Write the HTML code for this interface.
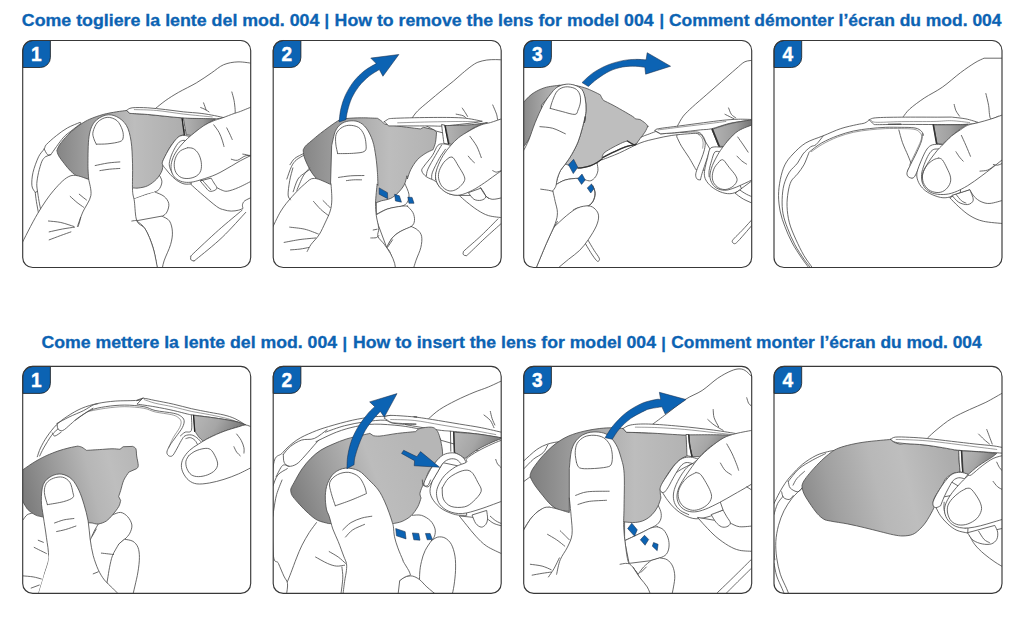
<!DOCTYPE html>
<html lang="it">
<head>
<meta charset="utf-8">
<title>Mod. 004 - lente</title>
<style>
html,body{margin:0;padding:0;background:#fff;}
body{width:1024px;height:629px;overflow:hidden;font-family:"Liberation Sans",sans-serif;}
svg{display:block;}
.ttl text{font-family:"Liberation Sans",sans-serif;font-weight:bold;font-size:16.3px;fill:#0c63b3;stroke:#0c63b3;stroke-width:0.3;}
.num{font-family:"Liberation Sans",sans-serif;font-weight:bold;font-size:18.5px;fill:#fff;stroke:#fff;stroke-width:0.4;text-anchor:middle;}
.ln{fill:none;stroke:#4c4c4c;stroke-width:2.3;stroke-linecap:round;stroke-linejoin:round;}
.th{fill:none;stroke:#555;stroke-width:1.6;stroke-linecap:round;stroke-linejoin:round;}
.sk{fill:#fff;stroke:#4c4c4c;stroke-width:2.3;stroke-linecap:round;stroke-linejoin:round;}
.wf{fill:#fff;stroke:none;}
.lens{stroke:#4c4c4c;stroke-width:2.3;stroke-linejoin:round;}
.bl{fill:#0c63b3;stroke:#1b2e4a;stroke-width:1.5;stroke-linejoin:round;}
</style>
</head>
<body>
<svg width="1024" height="629" viewBox="0 0 1024 629">
<defs>
<clipPath id="pc"><rect x="0" y="0" width="629" height="626" rx="28" ry="28"/></clipPath>
<linearGradient id="lg1" gradientUnits="userSpaceOnUse" x1="95" y1="0" x2="450" y2="0"><stop offset="0" stop-color="#858585"/><stop offset="0.25" stop-color="#a0a0a0"/><stop offset="0.6" stop-color="#bdbdbd"/><stop offset="1" stop-color="#adadad"/></linearGradient>
<linearGradient id="lg2" gradientUnits="userSpaceOnUse" x1="80" y1="0" x2="480" y2="0"><stop offset="0" stop-color="#858585"/><stop offset="0.3" stop-color="#a4a4a4"/><stop offset="0.6" stop-color="#bdbdbd"/><stop offset="1" stop-color="#b0b0b0"/></linearGradient>
<linearGradient id="lg3b" gradientUnits="userSpaceOnUse" x1="0" y1="0" x2="90" y2="0"><stop offset="0" stop-color="#8a8a8a"/><stop offset="1" stop-color="#b8b8b8"/></linearGradient>
<linearGradient id="dk4" x1="0" y1="0" x2="1" y2="0"><stop offset="0" stop-color="#b0b0b0"/><stop offset="0.5" stop-color="#a0a0a0"/><stop offset="1" stop-color="#7a7a7a"/></linearGradient>
<linearGradient id="lg5" gradientUnits="userSpaceOnUse" x1="0" y1="330" x2="300" y2="250"><stop offset="0" stop-color="#7d7d7d"/><stop offset="0.3" stop-color="#9a9a9a"/><stop offset="0.6" stop-color="#b6b6b6"/><stop offset="0.8" stop-color="#bebebe"/><stop offset="1" stop-color="#b8b8b8"/></linearGradient>
<linearGradient id="dk5" x1="0" y1="0" x2="1" y2="0.3"><stop offset="0" stop-color="#b8b8b8"/><stop offset="0.5" stop-color="#a6a6a6"/><stop offset="1" stop-color="#777"/></linearGradient>
<linearGradient id="lg6" gradientUnits="userSpaceOnUse" x1="60" y1="380" x2="400" y2="250"><stop offset="0" stop-color="#7d7d7d"/><stop offset="0.3" stop-color="#9c9c9c"/><stop offset="0.65" stop-color="#bcbcbc"/><stop offset="1" stop-color="#b6b6b6"/></linearGradient>
<linearGradient id="lg7" gradientUnits="userSpaceOnUse" x1="20" y1="0" x2="460" y2="0"><stop offset="0" stop-color="#7f7f7f"/><stop offset="0.3" stop-color="#a0a0a0"/><stop offset="0.65" stop-color="#bdbdbd"/><stop offset="1" stop-color="#b2b2b2"/></linearGradient>
<linearGradient id="lg8" gradientUnits="userSpaceOnUse" x1="70" y1="340" x2="480" y2="240"><stop offset="0" stop-color="#8a8a8a"/><stop offset="0.2" stop-color="#a0a0a0"/><stop offset="0.5" stop-color="#b8b8b8"/><stop offset="0.7" stop-color="#bebebe"/><stop offset="1" stop-color="#adadad"/></linearGradient>
<linearGradient id="dk1" x1="0" y1="0" x2="1" y2="0"><stop offset="0" stop-color="#b4b4b4"/><stop offset="0.6" stop-color="#9a9a9a"/><stop offset="1" stop-color="#6e6e6e"/></linearGradient>
</defs>
<rect width="1024" height="629" fill="#fff"/>
<g class="ttl">
<text x="21.8" y="25.5" textLength="297.6" lengthAdjust="spacingAndGlyphs">Come togliere la lente del mod. 004</text>
<text x="324.4" y="26">|</text>
<text x="334.6" y="25.5" textLength="319" lengthAdjust="spacingAndGlyphs">How to remove the lens for model 004</text>
<text x="659.4" y="26">|</text>
<text x="669" y="25.5" textLength="332.5" lengthAdjust="spacingAndGlyphs">Comment démonter l’écran du mod. 004</text>
<text x="41.4" y="348.2" textLength="295.7" lengthAdjust="spacingAndGlyphs">Come mettere la lente del mod. 004</text>
<text x="342.6" y="348.7">|</text>
<text x="353" y="348.2" textLength="303" lengthAdjust="spacingAndGlyphs">How to insert the lens for model 004</text>
<text x="661.3" y="348.7">|</text>
<text x="671.3" y="348.2" textLength="310.3" lengthAdjust="spacingAndGlyphs">Comment monter l’écran du mod. 004</text>
</g>
<!-- panel 1 -->
<g transform="translate(22.7,40.5) scale(0.36248)"><g clip-path="url(#pc)">
<path class="sk" d="M157.5,226.2C151.8,228.7 134.4,234.9 123.7,241.0C112.9,247.0 102.7,254.8 93.0,262.5C83.2,270.2 71.0,280.9 65.3,287.1C59.7,293.2 62.8,293.7 59.2,299.3C55.6,305.0 48.9,310.1 43.8,320.8C38.7,331.6 31.5,350.5 28.5,363.8C25.4,377.1 24.4,391.5 25.4,400.7C26.4,409.9 33.1,416.1 34.6,419.1L40.8,416.1C40.4,412.5 38.4,403.3 38.9,394.6C39.4,385.8 41.5,374.1 43.8,363.8C46.2,353.6 50.0,340.3 53.0,333.1C56.1,326.0 60.7,322.9 62.3,320.8L77.6,314.7C83.2,307.0 102.2,279.4 111.4,268.6C120.6,257.9 124.7,256.9 132.9,250.2C141.1,243.5 155.9,232.3 160.5,228.7Z"/>
<path class="ln" d="M59.2,299.3C60.7,301.9 65.3,312.1 68.4,314.7C71.5,317.3 76.1,314.7 77.6,314.7"/>
<path class="ln" d="M34.6,419.1C35.1,423.2 36.1,434.0 37.7,443.7C39.2,453.4 42.8,471.8 43.8,477.5"/>
<path class="ln" d="M40.8,416.1C41.5,420.7 43.5,435.0 45.1,443.7C46.6,452.4 49.1,464.2 50.0,468.3"/>
<path class="sk" d="M367.0,187.0C371.7,183.3 384.5,172.3 395.0,165.0C405.5,157.7 416.0,151.0 430.0,143.0C444.0,135.0 464.0,125.8 479.0,117.0C494.0,108.2 507.5,98.3 520.0,90.0C532.5,81.7 541.7,72.2 554.0,67.0C566.3,61.8 579.7,59.5 594.0,59.0C608.3,58.5 632.3,63.2 640.0,64.0L640.0,260.0C616.7,260.0 540.0,265.0 500.0,260.0C460.0,255.0 416.7,235.0 400.0,230.0Z"/>
<path class="ln" d="M577.0,142.0C578.0,145.8 581.5,157.0 583.0,165.0C584.5,173.0 585.5,183.3 586.0,190.0C586.5,196.7 586.0,202.5 586.0,205.0"/>
<path class="ln" d="M499.0,172.0C499.7,173.8 501.8,179.7 503.0,183.0C504.2,186.3 505.5,190.5 506.0,192.0"/>
<path class="ln" d="M491.0,185.0C493.0,185.8 499.2,188.0 503.0,190.0C506.8,192.0 512.2,195.8 514.0,197.0"/>
<path class="sk" d="M300.0,440.0C306.7,437.5 329.2,428.7 340.0,425.0C350.8,421.3 358.7,420.8 365.0,418.0C371.3,415.2 374.8,413.0 378.0,408.0C381.2,403.0 384.5,394.7 384.0,388.0C383.5,381.3 376.5,371.3 375.0,368.0L300.0,380.0Z"/>
<path class="wf" d="M365.0,418.0C369.2,420.0 383.7,424.7 390.0,430.0C396.3,435.3 401.7,442.8 403.0,450.0C404.3,457.2 401.0,467.2 398.0,473.0C395.0,478.8 393.0,479.7 385.0,485.0C377.0,490.3 357.8,499.2 350.0,505.0C342.2,510.8 340.0,517.5 338.0,520.0L300.0,440.0Z"/>
<path class="ln" d="M365.0,418.0C369.2,420.0 383.7,424.7 390.0,430.0C396.3,435.3 401.7,442.8 403.0,450.0C404.3,457.2 401.0,467.2 398.0,473.0C395.0,478.8 393.0,479.7 385.0,485.0C377.0,490.3 357.8,499.2 350.0,505.0C342.2,510.8 340.0,517.5 338.0,520.0"/>
<path class="sk" d="M385.0,485.0C388.3,487.2 400.3,490.8 405.0,498.0C409.7,505.2 412.5,517.2 413.0,528.0C413.5,538.8 411.8,549.7 408.0,563.0C404.2,576.3 394.2,595.2 390.0,608.0C385.8,620.8 384.2,634.7 383.0,640.0L373.0,640.0C370.8,628.8 365.8,593.0 360.0,573.0C354.2,553.0 345.5,532.5 338.0,520.0C330.5,507.5 318.8,501.7 315.0,498.0Z"/>
<path class="lens" d="M94.2,303.6C95.5,300.9 97.3,294.1 102.2,287.1C107.1,280.0 116.5,268.7 123.7,261.3C130.8,253.8 138.8,247.4 145.2,242.2C151.5,237.0 155.1,234.1 161.8,229.9C168.4,225.7 175.1,221.3 185.1,217.0C195.1,212.7 209.7,207.5 222.0,204.1C234.2,200.8 248.1,198.6 258.8,196.8C269.6,194.9 281.9,193.7 286.5,193.1L295.7,201.1C303.9,201.6 328.4,202.8 344.8,204.1C361.2,205.5 378.4,207.5 394.0,209.0C409.5,210.6 430.8,212.6 438.2,213.3L448.0,259.4C445.1,260.4 437.3,260.4 430.8,265.6C424.4,270.7 415.5,281.4 409.3,290.1C403.2,298.8 397.7,310.6 394.0,317.8C390.2,324.9 387.8,330.6 386.6,333.1C386.3,337.2 387.6,349.5 384.7,357.7C381.9,365.9 376.0,375.1 369.4,382.3C362.7,389.4 353.0,396.6 344.8,400.7C336.6,404.8 326.9,405.8 320.2,406.8C313.6,407.9 307.4,406.8 304.9,406.8L185.1,382.3C180.0,381.2 163.1,379.7 154.4,376.1C145.7,372.5 139.5,366.9 132.9,360.8C126.2,354.6 120.1,346.4 114.5,339.3C108.8,332.1 102.5,323.7 99.1,317.8C95.7,311.8 95.0,306.0 94.2,303.6Z" fill="url(#lg1)"/>
<path class="lens" d="M442.9,212.5C451.0,212.7 476.2,213.6 491.3,214.2C506.4,214.7 526.4,215.6 533.4,215.8C528.5,218.6 512.4,227.4 503.9,232.7C495.5,237.9 489.2,242.5 482.9,247.4C476.6,252.3 468.8,259.7 466.0,262.2L451.3,260.0C450.6,256.2 448.5,244.8 447.1,236.9C445.7,229.0 443.6,216.5 442.9,212.5Z" fill="url(#dk1)"/>
<path class="ln" d="M439.9,211.6C440.4,215.8 441.5,228.8 442.5,236.9C443.4,245.0 445.3,256.5 445.8,260.5" style="stroke:#222;stroke-width:3.2"/>
<path class="sk" d="M286.5,193.1C289.0,191.8 292.1,186.9 301.8,185.7C311.5,184.5 329.5,184.9 344.8,185.7C360.2,186.5 377.6,188.8 394.0,190.6C410.3,192.5 426.7,195.0 443.1,196.8C459.5,198.5 477.9,199.3 492.2,201.1C506.6,202.8 518.3,205.2 529.1,207.2C539.8,209.2 552.1,212.3 556.7,213.3L535.2,215.8C528.1,215.7 508.4,215.6 492.2,215.2C476.1,214.8 462.8,215.2 438.2,213.3C413.6,211.5 368.6,206.2 344.8,204.1C321.1,202.1 303.9,201.6 295.7,201.1L286.5,193.1Z"/>
<path class="th" d="M308.0,190.6C318.2,191.0 346.9,191.0 369.4,193.1C391.9,195.1 417.5,199.9 443.1,202.9C468.7,205.9 509.6,209.6 523.0,210.9"/>
<path class="sk" d="M463.9,267.2C461.5,266.4 454.5,262.6 449.2,262.2C443.9,261.7 437.6,261.5 432.4,264.3C427.1,267.1 422.9,272.3 417.6,279.0C412.4,285.7 406.0,295.1 400.8,304.3C395.5,313.4 388.4,327.1 386.0,333.7C383.7,340.4 385.1,340.4 386.9,344.3C388.6,348.1 393.2,352.7 396.6,356.9C399.9,361.1 402.5,364.8 407.1,369.5C411.7,374.2 417.6,380.8 423.9,385.1C430.3,389.5 438.0,393.9 445.0,395.6C452.0,397.4 462.5,395.6 466.0,395.6C470.3,387.4 491.7,367.8 491.3,346.4C491.0,325.0 468.5,280.4 463.9,267.2Z"/>
<path class="ln" d="M455.5,277.7C453.2,277.4 446.2,274.6 441.6,275.6C437.1,276.7 432.8,278.4 428.1,284.0C423.4,289.7 417.3,300.9 413.4,309.3C409.6,317.7 406.3,327.7 405.0,334.6C403.7,341.5 404.4,345.1 405.8,350.6C407.2,356.0 412.1,364.6 413.4,367.4"/>
<path class="sk" d="M465.3,398.1C469.5,401.9 478.7,410.6 490.3,420.6C502.0,430.6 524.5,450.4 535.3,458.1C546.2,465.9 548.7,465.0 555.3,467.1C562.0,469.2 568.7,470.5 575.3,470.6C582.0,470.8 589.9,469.4 595.3,468.1C600.8,466.9 605.8,464.0 607.8,463.1C607.6,461.5 605.5,456.6 606.3,453.1C607.2,449.6 608.0,445.8 612.8,442.1C617.7,438.5 631.6,433.0 635.3,431.1L635.3,385.6C628.7,389.0 607.0,400.6 595.3,405.6C583.7,410.6 572.8,414.4 565.3,415.6C557.8,416.9 555.3,414.8 550.3,413.1C545.3,411.5 537.8,406.9 535.3,405.6L465.3,373.1Z"/>
<path class="sk" d="M490.3,388.1C492.4,390.6 498.7,398.5 502.8,403.1C507.0,407.7 510.7,414.0 515.3,415.6C519.9,417.3 527.0,414.8 530.3,413.1C533.7,411.5 535.7,409.0 535.3,405.6C534.9,402.3 530.3,397.3 527.8,393.1C525.3,389.0 521.6,382.7 520.3,380.6Z"/>
<path class="ln" d="M496.3,386.1C498.2,388.3 504.1,394.9 507.8,399.1C511.6,403.4 517.0,409.5 518.8,411.6"/>
<path class="sk" d="M638.7,180.0C632.4,182.6 609.9,192.1 600.8,195.6C591.7,199.1 592.4,198.1 583.9,201.1C575.5,204.1 560.1,210.2 550.3,213.7C540.4,217.2 533.4,218.6 525.0,222.2C516.6,225.7 508.1,229.5 499.7,234.8C491.3,240.0 481.8,247.9 474.5,253.7C467.1,259.6 462.2,263.4 455.5,269.7C448.8,276.0 440.8,283.8 434.5,291.6C428.1,299.5 421.8,308.5 417.6,316.9C413.5,325.3 410.7,334.4 409.6,342.2C408.6,349.9 409.3,356.9 411.3,363.2C413.3,369.5 416.9,375.6 421.8,380.0C426.7,384.5 433.8,387.9 440.8,389.7C447.8,391.6 455.5,391.9 463.9,391.0C472.4,390.1 479.7,387.8 491.3,384.3C502.9,380.7 519.4,375.8 533.4,369.5C547.4,363.2 564.3,352.7 575.5,346.4C586.7,340.0 590.3,337.2 600.8,331.6C611.3,326.0 632.4,315.8 638.7,312.7Z"/>
<path class="ln" d="M455.5,295.8C458.1,296.3 466.2,295.6 471.1,298.4C476.0,301.2 481.4,306.4 485.0,312.7C488.6,318.9 491.5,328.1 492.6,335.8C493.6,343.6 493.5,352.7 491.3,359.0C489.1,365.3 485.0,370.2 479.5,373.7C474.0,377.3 465.5,379.8 458.5,380.5C451.4,381.2 443.4,380.7 437.4,377.9C431.4,375.2 425.9,369.9 422.7,364.0C419.4,358.2 418.0,350.2 418.0,343.0C418.0,335.8 419.8,327.6 422.7,321.1C425.6,314.6 429.8,308.5 435.3,304.3C440.8,300.0 452.1,297.2 455.5,295.8"/>
<path class="ln" d="M575.5,327.4C578.3,327.9 586.0,331.8 592.4,330.4C598.7,328.9 606.7,320.8 613.4,318.6C620.1,316.3 629.2,317.2 632.4,316.9"/>
<path class="ln" d="M607.1,313.5C608.9,313.8 613.4,314.1 617.6,315.2C621.8,316.3 629.9,319.4 632.4,320.3"/>
<path class="ln" d="M527.1,232.7C529.6,236.2 538.0,246.7 541.8,253.7C545.7,260.8 548.0,268.3 550.3,274.8C552.5,281.2 554.5,289.5 555.3,292.5"/>
<path class="ln" d="M562.9,241.1C564.3,243.9 568.8,252.6 571.3,257.9C573.8,263.3 576.9,270.6 578.0,273.1"/>
<path class="sk" d="M605.3,468.1C594.5,477.3 562.8,503.1 540.3,523.1C517.8,543.1 483.0,576.0 470.3,588.1C457.7,600.3 465.5,593.6 464.3,596.1C463.2,598.6 462.8,601.3 463.3,603.1C463.8,605.0 465.7,606.5 467.3,607.1C469.0,607.8 471.3,607.8 473.3,607.1C475.3,606.5 466.5,613.8 479.3,603.1C492.2,592.5 527.7,564.6 550.3,543.1C573.0,521.6 604.5,485.6 615.3,474.1"/>
<path class="sk" d="M-5.0,565.0C2.7,550.5 25.8,503.3 41.0,478.0C56.2,452.7 70.7,430.5 86.0,413.0C101.3,395.5 117.0,378.0 133.0,373.0C149.0,368.0 173.8,381.3 182.0,383.0C181.7,375.8 179.8,359.7 180.0,340.0C180.2,320.3 180.0,284.2 183.0,265.0C186.0,245.8 190.3,234.8 198.0,225.0C205.7,215.2 218.8,208.5 229.0,206.0C239.2,203.5 249.5,205.3 259.0,210.0C268.5,214.7 279.3,222.7 286.0,234.0C292.7,245.3 296.2,260.3 299.0,278.0C301.8,295.7 302.3,317.5 303.0,340.0C303.7,362.5 302.2,395.8 303.0,413.0C303.8,430.2 306.0,428.8 308.0,443.0C310.0,457.2 310.0,485.2 315.0,498.0C320.0,510.8 330.5,507.5 338.0,520.0C345.5,532.5 354.0,553.0 360.0,573.0C366.0,593.0 371.7,628.8 374.0,640.0L-5.0,640.0Z"/>
<path class="ln" d="M182.0,383.0C183.0,390.5 190.7,413.0 188.0,428.0C185.3,443.0 172.2,458.8 166.0,473.0C159.8,487.2 153.5,506.3 151.0,513.0"/>
<path class="ln" d="M203.0,286.0C201.8,283.3 197.5,275.7 196.0,270.0C194.5,264.3 192.2,259.5 194.0,252.0C195.8,244.5 200.5,231.7 207.0,225.0C213.5,218.3 224.2,212.7 233.0,212.0C241.8,211.3 253.0,215.2 260.0,221.0C267.0,226.8 272.2,239.0 275.0,247.0C277.8,255.0 278.2,263.7 277.0,269.0C275.8,274.3 275.0,276.3 268.0,279.0C261.0,281.7 245.8,283.8 235.0,285.0C224.2,286.2 208.3,285.8 203.0,286.0"/>
<path class="ln" d="M200.0,345.0C205.8,343.8 223.7,339.7 235.0,338.0C246.3,336.3 262.5,335.5 268.0,335.0"/>
<path class="ln" d="M213.0,359.0C217.5,358.3 230.8,356.0 240.0,355.0C249.2,354.0 263.3,353.3 268.0,353.0"/>
<path class="ln" d="M131.0,430.0C134.2,432.8 143.8,442.0 150.0,447.0C156.2,452.0 165.0,457.8 168.0,460.0"/>
<path class="ln" d="M156.0,424.0C157.8,425.5 163.7,430.3 167.0,433.0C170.3,435.7 174.5,438.8 176.0,440.0"/>
<path class="ln" d="M71.0,498.0C76.7,498.7 93.3,499.5 105.0,502.0C116.7,504.5 135.0,511.2 141.0,513.0"/>
<path class="ln" d="M73.0,528.0C79.2,526.7 98.3,522.2 110.0,520.0C121.7,517.8 137.5,515.8 143.0,515.0"/>
<path class="ln" d="M73.0,550.0C78.3,548.0 95.0,541.7 105.0,538.0C115.0,534.3 128.3,529.7 133.0,528.0"/>
<path class="ln" d="M153.0,513.0C153.7,510.8 155.8,504.2 157.0,500.0C158.2,495.8 159.5,490.0 160.0,488.0"/>
<path class="ln" d="M301.0,498.0C302.2,497.8 305.7,497.3 308.0,497.0C310.3,496.7 313.8,496.2 315.0,496.0"/>
</g></g>
<!-- panel 2 -->
<g transform="translate(273.2,40.5) scale(0.36248)"><g clip-path="url(#pc)">
<path class="ln" d="M46.3,342.7C48.5,339.8 53.3,330.3 59.5,325.2C65.7,320.0 79.6,314.2 83.6,312.0"/>
<path class="ln" d="M55.1,417.3C57.3,411.4 62.8,390.9 68.3,382.2C73.8,373.4 81.8,369.4 88.0,364.6C94.2,359.9 102.6,355.5 105.6,353.7"/>
<path class="ln" d="M37.6,382.2C39.8,376.3 46.3,355.9 50.7,347.1C55.1,338.3 58.2,334.7 63.9,329.5C69.6,324.4 81.4,318.6 84.9,316.4"/>
<path class="sk" d="M383.4,213.6C385.9,210.3 391.0,201.6 398.7,194.0C406.4,186.3 418.2,177.1 429.4,167.5C440.7,158.0 455.0,146.0 466.3,136.8C477.6,127.6 487.8,119.9 497.0,112.3C506.2,104.6 513.4,97.6 521.6,90.8C529.8,83.9 539.0,76.2 546.1,71.1C553.3,66.0 557.4,62.9 564.6,60.0C571.7,57.2 581.0,55.1 589.1,53.9C597.3,52.7 605.5,52.7 613.7,52.7C621.9,52.7 634.2,53.7 638.3,53.9L640.0,54.0L640.0,300.0L450.0,250.0Z"/>
<path class="ln" d="M605.7,177.9C607.5,182.2 613.8,196.2 616.2,203.2C618.7,210.2 617.6,217.7 620.5,220.0C623.3,222.4 631.0,217.6 633.1,217.1"/>
<path class="ln" d="M504.7,203.2C507.8,203.9 519.1,205.7 523.6,207.4C528.2,209.2 530.6,212.7 532.0,213.7"/>
<path class="ln" d="M521.5,186.4C522.9,188.5 527.5,195.1 529.9,199.0C532.4,202.9 535.2,207.8 536.2,209.5"/>
<path class="sk" d="M363.5,395.6C365.3,400.4 373.4,415.7 374.5,424.1C375.5,432.5 373.4,440.6 370.1,446.0C366.8,451.5 363.9,453.9 354.7,457.0C345.6,460.2 326.9,461.1 315.2,464.9C303.5,468.7 289.7,477.3 284.5,479.8L284.5,395.6Z"/>
<path class="sk" d="M370.1,457.0C372.6,459.9 382.1,468.0 385.4,474.6C388.7,481.1 390.5,490.1 389.8,496.5C389.1,502.9 387.6,508.0 381.0,513.2C374.5,518.3 359.1,521.9 350.3,527.2C341.6,532.5 334.6,537.4 328.4,544.7C322.2,552.0 315.6,566.7 313.0,571.0L280.2,483.3C286.0,480.3 302.8,469.3 315.2,464.9C327.7,460.5 345.6,458.3 354.7,457.0C363.9,455.7 367.5,457.0 370.1,457.0Z"/>
<path class="sk" d="M381.0,513.2C384.0,514.8 393.8,518.3 398.6,522.8C403.3,527.3 408.1,532.3 409.5,540.3C411.0,548.4 409.9,560.1 407.3,571.0C404.8,582.0 398.2,594.4 394.2,606.1C390.2,617.8 385.1,635.4 383.2,641.2L337.2,641.2C335.0,632.5 328.0,600.3 324.0,588.6C320.0,576.9 314.9,574.0 313.0,571.0C315.6,566.7 322.2,552.0 328.4,544.7C334.6,537.4 341.6,532.5 350.3,527.2C359.1,521.9 375.9,515.5 381.0,513.2Z"/>
<path class="ln" d="M315.2,571.0C316.7,568.9 321.7,561.4 324.0,557.9C326.4,554.4 328.4,551.3 329.3,550.0"/>
<path class="lens" d="M82.8,301.7C83.9,299.9 85.7,294.8 89.4,290.8C93.0,286.8 97.8,283.5 104.7,277.6C111.7,271.8 118.8,264.9 131.0,255.7C143.2,246.4 166.5,228.8 177.9,222.1C189.4,215.4 188.9,217.0 199.9,215.5C210.8,214.0 229.1,213.5 243.7,213.3C258.3,213.2 280.3,214.4 287.6,214.6C289.4,215.9 295.3,219.4 298.5,222.1C301.8,224.8 305.9,229.4 307.3,230.9C315.0,232.0 336.9,235.2 353.4,237.4C369.8,239.6 397.2,242.9 406.0,244.0L414.8,239.6L443.3,246.2L450.7,252.8C450.2,257.5 449.3,273.3 447.7,281.3C446.1,289.3 442.2,297.7 441.1,301.0C437.4,302.9 426.5,307.2 419.2,312.0C411.8,316.8 403.8,322.2 397.2,329.5C390.6,336.9 384.2,347.1 379.7,355.9C375.2,364.6 371.6,377.8 370.0,382.2L369.0,373.1C367.7,377.3 365.6,390.2 361.5,398.1C357.3,406.0 350.2,414.4 344.0,420.6C337.7,426.9 331.5,432.0 324.0,435.6C316.5,439.2 303.1,441.0 299.0,442.1L285.4,446.9C274.3,446.8 240.1,454.4 218.7,446.0C197.4,437.7 167.6,405.1 157.3,396.9L159.5,398.2C157.0,397.7 150.4,397.7 144.2,395.2C138.0,392.6 128.5,387.8 122.3,382.9C116.0,377.9 111.7,372.3 106.9,365.3C102.2,358.4 97.4,348.9 93.7,341.2C90.1,333.5 86.8,325.9 85.0,319.3C83.1,312.7 83.1,304.7 82.8,301.7Z" fill="url(#lg2)"/>
<path class="sk" d="M306.6,224.1C308.1,223.0 311.7,219.4 315.8,217.9C319.9,216.4 312.2,215.8 331.2,214.8C350.1,213.9 397.7,212.6 429.4,212.4C461.2,212.2 497.0,211.9 521.6,213.6C546.1,215.4 567.6,221.3 576.9,222.8L552.3,227.1C539.0,228.6 492.9,234.3 472.4,235.7C452.0,237.2 455.0,235.7 429.4,235.7C403.8,235.7 337.3,235.7 318.9,235.7L306.6,224.1Z"/>
<path class="th" d="M343.4,227.1C357.8,226.7 399.7,225.3 429.4,224.7C459.1,224.1 499.0,223.4 521.6,223.4C544.1,223.4 557.4,224.5 564.6,224.7"/>
<path class="lens" d="M475.2,234.8C486.1,234.4 521.2,234.1 540.5,232.7C559.8,231.3 582.6,227.4 591.0,226.4C584.7,228.8 564.3,235.1 553.1,241.1C541.9,247.1 532.7,254.4 523.6,262.2C514.5,269.9 502.6,283.2 498.3,287.4L485.7,285.3L475.2,234.8Z" fill="url(#dk1)"/>
<path class="sk" d="M464.7,232.7C465.2,236.9 466.6,249.4 467.6,257.9C468.7,266.5 470.4,279.7 471.0,284.0L483.6,285.7C482.7,281.1 479.8,266.4 478.1,257.9C476.5,249.5 474.6,238.6 473.9,234.8Z"/>
<path class="ln" d="M473.9,234.8C474.6,238.6 476.5,249.5 478.1,257.9C479.8,266.4 483.0,281.1 484.0,285.7" style="stroke:#222;stroke-width:3.2"/>
<path class="sk" d="M494.1,290.8C490.3,289.9 477.6,285.5 471.0,285.3C464.3,285.1 459.4,284.3 454.1,289.5C448.9,294.8 445.7,307.4 439.4,316.9C433.1,326.4 421.2,339.2 416.2,346.4C411.3,353.5 408.9,354.9 409.9,359.8C411.0,364.8 416.2,371.1 422.6,375.8C428.9,380.6 441.5,383.6 447.8,388.5C454.1,393.4 454.1,399.6 460.5,405.3C466.8,411.1 476.6,419.3 485.7,423.0C494.8,426.6 510.3,426.5 515.2,427.2L532.0,346.4Z"/>
<path class="ln" d="M464.7,288.3C461.9,293.0 454.1,305.8 447.8,316.9C441.5,328.0 431.0,345.3 426.8,354.8C422.6,364.3 423.3,370.6 422.6,373.7"/>
<path class="ln" d="M475.2,300.0C472.4,304.3 464.3,314.8 458.3,325.3C452.4,335.8 442.9,353.9 439.4,363.2C435.9,372.5 437.6,377.9 437.3,380.9"/>
<path class="ln" d="M485.7,304.3C482.2,309.2 470.6,323.9 464.7,333.7C458.7,343.6 452.7,354.8 449.9,363.2C447.1,371.6 448.2,380.8 447.8,384.3"/>
<path class="sk" d="M514.0,428.1C517.3,431.0 525.6,439.0 534.0,445.6C542.3,452.3 554.0,461.9 564.0,468.1C574.0,474.4 582.3,479.6 594.0,483.1C605.6,486.6 627.3,488.1 634.0,489.1L634.0,433.1C629.0,434.0 612.3,439.0 604.0,438.1C595.6,437.3 587.3,429.8 584.0,428.1Z"/>
<path class="sk" d="M539.0,420.6C541.5,423.5 548.1,434.8 554.0,438.1C559.8,441.5 568.5,441.9 574.0,440.6C579.4,439.4 586.5,436.0 586.5,430.6C586.5,425.2 576.0,411.9 574.0,408.1Z"/>
<path class="ln" d="M571.5,405.6C573.5,409.0 580.2,420.6 584.0,425.6C587.7,430.6 592.3,434.0 594.0,435.6"/>
<path class="sk" d="M620.0,492.1C612.3,499.8 589.1,523.8 574.0,538.1C558.8,552.5 537.2,570.5 529.0,578.1C520.7,585.8 525.3,582.3 524.5,584.1C523.6,586.0 523.5,587.7 524.0,589.1C524.4,590.5 525.6,592.0 527.0,592.6C528.3,593.3 530.1,593.6 532.0,593.1C533.8,592.6 529.3,597.5 538.0,589.6C546.6,581.7 568.6,559.9 584.0,545.6C599.3,531.4 622.3,511.0 630.0,504.1"/>
<path class="sk" d="M633.1,215.0C627.5,216.9 609.2,223.4 599.4,226.4C589.6,229.3 584.0,228.8 574.1,232.7C564.3,236.5 551.0,243.6 540.5,249.5C529.9,255.5 519.4,261.8 511.0,268.5C502.6,275.1 496.9,281.5 489.9,289.5C482.9,297.6 475.0,306.7 468.9,316.9C462.7,327.1 456.4,340.8 452.9,350.6C449.4,360.4 447.6,368.1 447.8,375.8C448.0,383.6 450.6,390.6 454.1,396.9C457.6,403.2 462.9,409.2 468.9,413.7C474.8,418.3 482.2,422.2 489.9,424.3C497.6,426.4 505.4,428.1 515.2,426.4C525.0,424.6 537.6,419.3 548.9,413.7C560.1,408.1 572.0,399.7 582.6,392.7C593.1,385.7 603.6,377.6 612.0,371.6C620.5,365.7 629.6,359.3 633.1,356.9Z"/>
<path class="ln" d="M485.7,323.2C487.5,323.2 492.0,319.3 496.2,323.2C500.5,327.1 506.1,338.3 511.0,346.4C515.9,354.4 522.9,365.0 525.7,371.6C528.5,378.3 529.6,381.1 527.8,386.4C526.1,391.6 520.1,398.6 515.2,403.2C510.3,407.8 504.0,412.0 498.3,413.7C492.7,415.5 487.1,415.8 481.5,413.7C475.9,411.6 468.9,406.7 464.7,401.1C460.5,395.5 457.3,387.1 456.2,380.0C455.2,373.0 455.9,366.4 458.3,359.0C460.8,351.6 466.4,341.8 471.0,335.8C475.5,329.9 483.3,325.3 485.7,323.2"/>
<path class="ln" d="M542.6,264.3C545.7,268.8 556.2,281.8 561.5,291.6C566.8,301.5 572.0,317.9 574.1,323.2"/>
<path class="ln" d="M538.3,319.0C539.8,320.8 544.0,326.5 546.8,329.5C549.6,332.5 553.8,335.8 555.2,337.1"/>
<path class="ln" d="M605.7,359.0C607.5,359.7 612.0,363.3 616.2,363.2C620.5,363.1 628.5,359.0 631.0,358.2"/>
<path class="sk" d="M-4.9,522.8C-0.6,514.0 11.9,485.5 21.4,470.2C30.9,454.8 41.1,443.1 52.1,430.7C63.0,418.3 76.9,404.0 87.2,395.6C97.4,387.2 101.6,380.0 113.5,380.3C125.3,380.5 150.8,394.1 158.2,396.9L161.3,290.1C162.9,283.5 167.1,260.5 171.3,250.6C175.6,240.7 180.5,235.6 186.7,230.9C192.9,226.1 200.6,223.2 208.6,222.1C216.7,221.0 226.9,221.0 234.9,224.3C243.0,227.6 250.3,233.1 256.9,241.8C263.5,250.6 270.0,263.8 274.4,276.9C278.8,290.1 281.0,306.2 283.2,320.8C285.4,335.4 286.6,351.5 287.6,364.6C288.5,377.8 288.7,393.9 288.9,399.7L286.7,395.6C286.0,404.4 282.7,433.6 282.3,448.2C282.0,462.9 283.1,471.6 284.5,483.3C286.0,495.0 290.4,508.9 291.1,518.4C291.8,527.9 286.4,533.0 288.9,540.3C291.5,547.7 300.6,554.2 306.5,562.3C312.3,570.3 319.3,579.8 324.0,588.6C328.8,597.4 332.6,606.1 335.0,614.9C337.3,623.7 337.5,636.8 338.0,641.2L-4.9,641.2Z"/>
<path class="ln" d="M159.5,395.6C159.9,402.9 162.1,427.0 161.7,439.5C161.4,451.9 160.3,459.9 157.3,470.2C154.4,480.4 149.3,489.9 144.2,500.9C139.1,511.8 133.2,525.7 126.6,536.0C120.1,546.2 110.2,554.6 104.7,562.3C99.2,570.0 95.6,578.7 93.7,582.0"/>
<path class="ln" d="M275.8,522.8L286.7,520.6"/>
<path class="ln" d="M269.2,544.7C271.7,544.6 280.9,545.0 284.5,543.9C288.2,542.8 290.0,539.1 291.1,538.2"/>
<path class="ln" d="M54.3,351.7C52.8,357.6 47.7,374.4 45.5,386.8C43.3,399.3 40.7,417.5 41.1,426.3C41.5,435.1 46.6,437.3 47.7,439.5"/>
<path class="ln" d="M100.3,351.7C97.4,355.4 88.6,363.4 82.8,373.7C76.9,383.9 68.2,406.6 65.2,413.2"/>
<path class="ln" d="M177.9,312.0C177.1,307.6 173.4,294.5 172.7,285.7C171.9,276.9 171.2,266.7 173.5,259.4C175.9,252.1 180.9,246.1 186.7,241.8C192.5,237.6 200.6,234.3 208.6,233.9C216.7,233.6 228.0,235.4 234.9,239.6C241.9,243.9 246.8,251.7 250.3,259.4C253.8,267.0 255.6,278.0 256.0,285.7C256.4,293.4 258.2,301.2 252.5,305.4C246.8,309.7 234.2,310.0 221.8,311.1C209.4,312.2 185.2,311.9 177.9,312.0"/>
<path class="ln" d="M180.1,377.8C185.6,377.1 201.3,374.3 213.0,373.4C224.7,372.5 244.1,372.7 250.3,372.5"/>
<path class="ln" d="M202.1,386.6C205.3,386.2 214.8,384.7 221.8,384.4C228.7,384.0 240.1,384.4 243.7,384.4"/>
<path class="ln" d="M111.3,443.9C114.6,447.5 124.1,459.2 131.0,465.8C138.0,472.4 149.3,480.4 153.0,483.3"/>
<path class="ln" d="M137.6,441.7C139.4,443.5 145.3,449.3 148.6,452.6C151.9,455.9 155.9,459.9 157.3,461.4"/>
<path class="ln" d="M45.5,514.9C52.4,515.9 74.0,517.5 87.2,520.6C100.3,523.8 118.2,531.6 124.4,533.8"/>
<path class="ln" d="M30.2,557.0C37.5,555.7 59.4,551.2 74.0,549.1C88.6,547.1 110.6,545.5 117.9,544.7"/>
<path class="ln" d="M47.7,577.6C52.1,577.3 65.6,576.5 74.0,575.4C82.4,574.3 94.1,571.8 98.1,571.0"/>
<path class="bl" d="M292.4,406.6L315.2,419.7L316.1,436.4L292.4,424.1Z"/>
<path class="bl" d="M335.0,424.1L348.1,428.5L353.8,446.0L337.2,442.5Z"/>
<path class="bl" d="M371.4,432.0L383.2,432.9L388.5,449.1L374.5,449.1Z"/>
<path class="bl" d="M181.7,224.6C182.5,218.6 183.8,200.9 186.7,188.6C189.6,176.4 193.4,163.6 199.2,151.1C205.0,138.6 213.0,124.9 221.7,113.6C230.5,102.4 241.3,92.0 251.7,83.6C262.1,75.3 278.8,67.0 284.2,63.6L269.2,48.6L346.7,38.6L302.7,98.6L292.7,80.1C288.0,83.2 273.5,91.0 264.2,98.6C254.9,106.3 244.6,116.1 236.7,126.1C228.8,136.1 222.0,147.4 216.7,158.6C211.5,169.9 207.9,183.6 205.2,193.6C202.5,203.6 201.5,214.5 200.7,218.6Z"/>
</g></g>
<!-- panel 3 -->
<g transform="translate(523.7,40.5) scale(0.36248)"><g clip-path="url(#pc)">
<path class="sk" d="M425.3,233.6C427.8,229.5 433.7,217.0 440.3,208.6C447.0,200.3 454.5,193.6 465.3,183.6C476.2,173.6 492.0,160.3 505.3,148.6C518.7,137.0 532.0,125.3 545.3,113.6C558.7,102.0 574.5,87.8 585.3,78.6C596.2,69.5 602.0,62.6 610.3,58.6C618.7,54.6 631.2,55.3 635.3,54.6L635.3,348.6L480.3,358.6L475.3,356.7C472.0,350.9 462.0,332.6 455.3,321.7C448.7,310.9 440.7,300.9 435.3,291.7C429.9,282.6 424.9,270.9 422.8,266.7Z"/>
<path class="ln" d="M565.3,186.1C566.6,189.0 569.5,199.0 572.8,203.6C576.2,208.2 583.3,212.0 585.3,213.6"/>
<path class="ln" d="M555.3,203.6C557.8,204.9 566.2,209.0 570.3,211.1C574.5,213.2 578.7,215.3 580.3,216.1"/>
<path class="lens" d="M-3.6,174.1C0.8,169.7 12.5,155.1 22.8,147.7C33.0,140.4 45.4,134.2 57.8,130.2C70.3,126.2 90.7,124.7 97.3,123.6L49.1,178.4L49.1,191.7C47.6,196.1 44.0,208.5 40.3,218.1C36.6,227.6 32.3,238.5 27.1,248.8C22.0,259.0 14.7,271.4 9.6,279.5C4.5,287.5 -1.4,294.1 -3.6,297.0Z" fill="url(#lg3b)"/>
<path class="sk" d="M202.6,338.7C202.9,342.0 205.5,352.2 204.8,358.4C204.0,364.6 201.5,371.2 198.2,375.9C194.9,380.7 189.8,385.5 185.0,386.9C180.3,388.4 172.2,385.1 169.7,384.7C166.4,384.0 159.1,380.3 150.0,380.3C140.8,380.3 125.1,381.8 114.9,384.7C104.6,387.6 92.9,395.7 88.5,397.9C90.7,391.3 94.4,370.8 101.7,358.4C109.0,346.0 127.3,329.2 132.4,323.3Z"/>
<path class="wf" d="M187.2,397.9C188.7,400.8 194.9,408.8 196.0,415.4C197.1,422.0 196.4,430.8 193.8,437.4C191.3,443.9 188.0,450.9 180.7,454.9C173.3,458.9 157.3,459.4 150.0,461.5C142.6,463.6 139.0,466.6 136.8,467.6L82.0,437.4C81.6,433.7 78.7,422.0 79.8,415.4C80.9,408.8 87.1,400.8 88.5,397.9C92.9,395.7 104.6,387.6 114.9,384.7C125.1,381.8 140.8,380.3 150.0,380.3C159.1,380.3 166.4,384.0 169.7,384.7Z"/>
<path class="ln" d="M187.2,397.9C188.7,400.8 194.9,408.8 196.0,415.4C197.1,422.0 196.4,430.8 193.8,437.4C191.3,443.9 188.0,450.9 180.7,454.9C173.3,458.9 157.3,459.4 150.0,461.5C142.6,463.6 139.0,466.6 136.8,467.6"/>
<path class="ln" d="M88.5,397.9C92.9,395.7 104.6,387.6 114.9,384.7C125.1,381.8 140.8,380.3 150.0,380.3C159.1,380.3 166.4,384.0 169.7,384.7"/>
<path class="sk" d="M166.7,554.5C169.8,559.6 179.5,576.5 185.1,585.2C190.7,593.9 196.9,602.8 200.5,606.7C204.0,610.6 205.3,609.5 206.6,608.5C207.9,607.5 210.5,605.4 208.4,600.5C206.4,595.6 199.7,587.7 194.3,579.0C188.9,570.3 179.0,553.4 175.9,548.3"/>
<path class="sk" d="M83.8,514.5C89.4,509.4 106.8,492.5 117.5,483.8C128.3,475.1 138.0,466.9 148.3,462.3C158.5,457.7 170.8,455.7 179.0,456.2C187.2,456.7 192.8,460.8 197.4,465.4C202.0,470.0 206.1,476.1 206.6,483.8C207.1,491.5 205.1,500.7 200.5,511.5C195.9,522.2 186.6,537.0 179.0,548.3C171.3,559.6 163.6,569.8 154.4,579.0C145.2,588.2 134.9,594.4 123.7,603.6C112.4,612.8 93.0,629.2 86.8,634.3L31.5,634.3C36.7,622.0 53.6,580.6 62.3,560.6C71.0,540.6 80.2,522.2 83.8,514.5Z"/>
<path class="ln" d="M179.0,456.2C181.0,454.1 188.2,449.5 191.2,443.9C194.3,438.3 197.4,429.6 197.4,422.4C197.4,415.2 192.3,404.5 191.2,400.9"/>
<path class="ln" d="M93.0,499.2L83.8,514.5"/>
<path class="sk" d="M215.7,323.3C220.9,320.8 235.5,313.1 246.4,308.0C257.4,302.8 271.3,296.3 281.5,292.6C291.8,289.0 301.3,290.1 307.8,286.0C314.4,282.0 314.3,273.2 320.8,268.5C327.4,263.7 339.9,260.5 347.2,257.5C354.5,254.6 361.8,252.0 364.7,250.9L377.9,257.5C386.6,256.9 414.4,254.9 430.5,254.0C446.6,253.1 464.5,251.7 474.4,252.3C484.2,252.8 486.1,254.5 489.7,257.5C493.4,260.6 495.2,268.5 496.3,270.7L513.8,299.2C513.1,301.8 511.6,307.6 509.4,314.5C507.3,321.5 503.6,332.1 500.7,340.9C497.8,349.6 494.1,359.9 491.9,367.2C489.7,374.5 488.2,381.8 487.5,384.7C486.1,384.4 480.9,384.7 478.7,382.5C476.6,380.3 474.4,376.3 474.4,371.6C474.4,366.8 476.2,361.3 478.7,354.0C481.3,346.7 486.4,336.5 489.7,327.7C493.0,318.9 496.7,309.4 498.5,301.4C500.3,293.3 501.4,285.7 500.7,279.5C499.9,273.2 497.8,267.9 494.1,264.1C490.4,260.3 485.7,257.7 478.7,256.6C471.8,255.6 464.1,256.6 452.4,257.5C440.7,258.4 423.2,259.7 408.6,261.9C393.9,264.1 379.3,267.2 364.7,270.7C350.1,274.2 337.6,276.4 320.8,283.0C304.1,289.5 281.1,302.6 264.0,310.2C246.8,317.8 225.6,325.5 217.9,328.6Z"/>
<path class="th" d="M480.9,258.8C482.6,260.2 488.7,263.4 491.0,267.2C493.4,271.0 494.5,276.7 495.0,281.6C495.4,286.6 493.9,294.4 493.7,297.0"/>
<path class="ln" d="M215.7,324.2C220.9,321.6 235.5,314.0 246.4,308.8C257.4,303.7 271.3,297.1 281.5,293.5C291.8,289.8 303.5,288.0 307.8,286.9" style="stroke:#333;stroke-width:3.5"/>
<path class="sk" d="M362.5,248.8C364.0,247.9 360.0,245.7 371.3,243.5C382.6,241.3 409.7,238.4 430.5,235.6C451.3,232.8 476.6,229.4 496.3,226.8C516.0,224.3 532.8,221.9 548.9,220.2C565.0,218.6 578.5,217.5 592.8,217.2C607.0,216.8 627.5,217.9 634.4,218.1L634.4,220.7L605.9,222.4C599.4,223.5 581.1,225.5 566.5,229.0C551.8,232.5 531.4,240.6 518.2,243.5C505.1,246.4 502.1,245.0 487.5,246.6C472.9,248.2 448.8,251.3 430.5,253.1C412.2,255.0 386.6,256.8 377.9,257.5L362.5,248.8Z"/>
<path class="th" d="M371.3,246.6C381.2,245.3 409.7,241.7 430.5,239.1C451.3,236.5 475.1,233.8 496.3,231.2C517.5,228.6 547.5,224.6 557.7,223.3"/>
<path class="lens" d="M519.1,245.2C527.0,242.8 552.0,234.1 566.5,230.3C580.9,226.5 594.6,224.4 605.9,222.4C617.3,220.5 629.7,219.1 634.4,218.5L634.4,234.3C627.5,237.1 604.1,244.5 592.8,250.9C581.5,257.4 573.0,265.9 566.5,272.9C559.9,279.8 555.5,289.3 553.3,292.6L538.0,291.7L519.1,245.2Z" fill="url(#dk1)"/>
<path class="ln" d="M520.4,245.2L539.3,291.7" style="stroke:#333;stroke-width:5"/>
<path class="sk" d="M548.9,294.8C545.3,294.6 532.8,292.8 527.0,293.5C521.1,294.2 517.1,294.2 513.8,299.2C510.5,304.2 509.4,314.9 507.3,323.3C505.1,331.7 502.1,341.6 500.7,349.6C499.2,357.7 497.8,365.0 498.5,371.6C499.2,378.1 501.0,383.3 505.1,389.1C509.1,395.0 515.3,401.5 522.6,406.7C529.9,411.8 540.1,417.3 548.9,419.8C557.7,422.4 566.5,423.5 575.2,422.0C584.0,420.5 597.2,412.9 601.6,411.0L566.5,323.3Z"/>
<path class="ln" d="M540.1,306.7C538.0,306.9 530.6,303.7 527.0,308.0C523.3,312.2 520.8,323.7 518.2,332.1C515.7,340.5 512.7,351.1 511.6,358.4C510.5,365.7 511.6,373.0 511.6,375.9"/>
<path class="sk" d="M584.0,422.0C587.7,424.6 597.5,432.6 605.9,437.4C614.3,442.1 629.7,448.3 634.4,450.5L634.4,384.7Z"/>
<path class="ln" d="M597.2,413.2C600.1,415.1 608.5,420.9 614.7,424.2C620.9,427.5 631.2,431.5 634.4,433.0"/>
<path class="sk" d="M634.4,231.2C627.5,234.1 604.1,241.8 592.8,248.8C581.5,255.7 573.8,265.2 566.5,272.9C559.2,280.6 554.0,287.9 548.9,294.8C543.8,301.8 540.5,306.1 535.8,314.5C531.0,323.0 524.1,335.7 520.4,345.2C516.8,354.7 514.2,363.9 513.8,371.6C513.5,379.2 515.3,385.5 518.2,391.3C521.1,397.1 525.5,403.0 531.4,406.7C537.2,410.3 546.0,412.9 553.3,413.2C560.6,413.6 567.2,411.4 575.2,408.8C583.3,406.3 591.7,402.3 601.6,397.9C611.4,393.5 629.0,385.1 634.4,382.5Z"/>
<path class="ln" d="M542.3,331.2C543.8,331.0 547.1,326.8 551.1,329.9C555.1,333.0 561.0,342.7 566.5,349.6C571.9,356.6 580.4,365.3 584.0,371.6C587.7,377.8 589.5,381.8 588.4,386.9C587.3,392.0 582.5,398.2 577.4,402.3C572.3,406.3 564.3,410.3 557.7,411.0C551.1,411.8 543.7,409.9 538.0,406.7C532.3,403.4 526.4,397.1 523.5,391.3C520.6,385.5 519.8,378.5 520.4,371.6C521.0,364.6 523.3,356.4 527.0,349.6C530.6,342.9 539.8,334.3 542.3,331.2"/>
<path class="ln" d="M590.6,266.3C593.1,270.0 601.2,281.3 605.9,288.2C610.7,295.2 616.9,304.7 619.1,308.0"/>
<path class="ln" d="M588.4,318.9C590.6,321.1 597.2,328.4 601.6,332.1C605.9,335.7 612.5,339.4 614.7,340.9"/>
<path class="sk" d="M633.5,490.0C628.4,495.6 611.5,514.5 602.8,523.7C594.1,533.0 585.9,540.1 581.3,545.2C576.7,550.4 575.2,551.9 575.2,554.5C575.2,557.0 578.7,560.6 581.3,560.6C583.9,560.6 584.9,560.1 590.5,554.5C596.2,548.8 607.9,535.0 615.1,526.8C622.3,518.6 630.4,508.9 633.5,505.3"/>
<path class="lens" d="M97.3,123.6C103.2,123.5 120.7,121.6 132.4,122.7C144.1,123.8 157.3,127.1 167.5,130.2C177.7,133.3 186.5,137.9 193.8,141.2C201.1,144.5 208.4,148.5 211.4,149.9C212.1,151.4 214.3,156.2 215.7,158.7C217.2,161.3 219.4,164.2 220.1,165.3C224.5,167.5 236.2,173.0 246.4,178.4C256.7,183.9 272.0,192.7 281.5,198.2C291.0,203.7 299.8,209.1 303.5,211.3C304.2,212.1 304.9,214.6 307.8,215.7C310.8,216.8 318.8,217.6 321.0,217.9C323.6,219.7 332.7,225.6 336.4,228.9C340.0,232.2 341.8,236.2 342.9,237.7L342.9,235.6C341.5,238.5 337.8,247.3 334.2,253.1C330.5,259.0 325.0,265.2 321.0,270.7C317.0,276.2 311.9,283.5 310.0,286.0L303.5,287.4L285.9,277.3C283.7,278.0 279.3,278.7 272.8,281.6C266.2,284.6 254.5,290.4 246.4,294.8C238.4,299.2 229.3,304.3 224.5,308.0C219.8,311.6 219.4,313.4 217.9,316.7C216.5,320.0 216.1,325.9 215.7,327.7C213.5,329.2 207.7,333.6 202.6,336.5C197.5,339.4 191.6,342.9 185.0,345.2C178.5,347.6 169.0,349.4 163.1,350.5C157.3,351.6 158.0,353.4 150.0,351.8C141.9,350.2 120.7,342.7 114.9,340.9C117.8,336.5 126.6,324.8 132.4,314.5C138.3,304.3 145.2,291.2 150.0,279.5C154.7,267.8 157.6,256.1 160.9,244.4C164.2,232.7 168.2,215.1 169.7,209.3L167.5,226.7C168.2,220.8 171.5,202.6 171.9,191.6C172.2,180.6 171.5,170.3 169.7,160.9C167.9,151.5 162.4,139.7 160.9,135.5Z" fill="#bebebe"/>
<path class="ln" d="M150.0,351.8C152.1,351.6 157.3,351.6 163.1,350.5C169.0,349.4 178.5,347.6 185.0,345.2C191.6,342.9 197.5,339.4 202.6,336.5C207.7,333.6 213.5,329.2 215.7,327.7" style="stroke:#333;stroke-width:3.5"/>
<path class="ln" d="M285.9,277.3C288.8,278.9 299.4,285.9 303.5,287.4C307.5,288.8 308.9,286.3 310.0,286.0" style="stroke:#333;stroke-width:3.5"/>
<path class="sk" d="M-1.4,305.6C1.2,300.5 8.5,287.7 14.0,274.5C19.5,261.3 25.0,242.7 31.5,226.7C38.1,210.7 46.4,191.6 53.5,178.4C60.6,165.3 67.7,155.9 74.1,147.7C80.4,139.6 84.5,133.9 91.6,129.3C98.8,124.8 108.8,121.5 117.1,120.6C125.3,119.6 133.9,121.1 141.2,123.6C148.5,126.1 156.2,129.3 160.9,135.5C165.7,141.7 167.9,151.5 169.7,160.9C171.5,170.3 172.2,180.6 171.9,191.6C171.5,202.6 168.2,220.8 167.5,226.7L169.7,209.3C168.2,215.1 164.2,232.7 160.9,244.4C157.6,256.1 154.7,267.8 150.0,279.5C145.2,291.2 138.3,304.3 132.4,314.5C126.6,324.8 120.0,333.6 114.9,340.9C109.7,348.2 105.4,351.8 101.7,358.4C98.1,365.0 95.1,373.0 92.9,380.3C90.7,387.6 90.7,396.4 88.5,402.3C86.4,408.1 81.2,413.2 79.8,415.4L80.7,416.2C81.7,420.9 84.8,434.2 86.8,443.9C88.9,453.6 93.0,464.4 93.0,474.6C93.0,484.8 91.9,491.0 86.8,505.3C81.7,519.6 71.5,539.1 62.3,560.6C53.0,582.1 36.7,622.0 31.5,634.3L-11.5,634.3Z"/>
<path class="ln" d="M46.9,410.1C50.5,410.6 62.8,412.1 68.4,413.2C74.0,414.2 78.6,415.7 80.7,416.2"/>
<path class="ln" d="M73.2,187.2C74.3,183.6 76.5,173.3 79.8,165.3C83.1,157.2 87.1,145.2 92.9,139.0C98.8,132.8 106.8,129.1 114.9,128.0C122.9,126.9 134.6,129.1 141.2,132.4C147.8,135.7 151.8,141.5 154.3,147.7C156.9,154.0 157.3,162.4 156.5,169.7C155.8,177.0 152.5,185.9 150.0,191.6C147.4,197.3 148.5,203.2 141.2,203.9C133.9,204.6 117.4,198.8 106.1,196.0C94.8,193.2 78.7,188.7 73.2,187.2"/>
<path class="ln" d="M44.7,237.7C50.5,238.4 68.1,238.8 79.8,242.0C91.5,245.3 109.0,254.8 114.9,257.4"/>
<path class="bl" d="M123.6,343.1L137.7,327.7L149.1,349.6L136.8,367.2Z"/>
<path class="bl" d="M149.1,381.2L160.9,368.5L169.7,384.7L159.6,397.0Z"/>
<path class="bl" d="M175.4,406.7L187.2,395.7L193.8,408.8L185.0,420.7Z"/>
<path class="bl" d="M160.9,116.2C165.7,111.9 178.1,98.6 189.4,90.7C200.8,82.8 215.0,74.6 228.9,68.8C242.8,62.9 259.6,58.4 272.8,55.6C285.9,52.9 297.0,52.5 307.8,52.1C318.7,51.8 332.7,53.2 337.7,53.4L340.7,33.7L405.2,71.0L336.4,92.9L334.2,74.1C329.8,73.5 318.1,71.1 307.8,71.0C297.6,70.8 284.5,71.0 272.8,73.2C261.1,75.4 249.4,78.7 237.7,84.1C226.0,89.6 212.5,99.0 202.6,106.1C192.7,113.2 182.5,123.3 178.5,126.7Z"/>
</g></g>
<!-- panel 4 -->
<g transform="translate(774,40.5) scale(0.36248)"><g clip-path="url(#pc)">
<path class="wf" d="M357.0,209.8C359.9,206.3 364.9,197.3 374.5,188.8C384.1,180.3 399.5,168.8 414.5,158.8C429.5,148.8 447.8,140.5 464.5,128.8C481.2,117.1 499.5,100.0 514.5,88.8C529.5,77.5 543.7,68.0 554.5,61.3C565.3,54.6 575.3,50.9 579.5,48.8L639.5,48.8L639.5,403.8L379.5,341.9C377.8,337.7 373.7,326.9 369.5,316.9C365.3,306.9 358.7,293.6 354.5,281.9C350.3,270.2 346.2,252.7 344.5,246.9L344.5,242.8C345.3,239.6 347.4,229.3 349.5,223.8C351.6,218.3 355.8,212.1 357.0,209.8Z"/>
<path class="ln" d="M357.0,209.8C359.9,206.3 364.9,197.3 374.5,188.8C384.1,180.3 399.5,168.8 414.5,158.8C429.5,148.8 447.8,140.5 464.5,128.8C481.2,117.1 499.5,100.0 514.5,88.8C529.5,77.5 543.7,68.0 554.5,61.3C565.3,54.6 575.3,50.9 579.5,48.8L639.5,48.8"/>
<path class="ln" d="M379.5,341.9C377.8,337.7 373.7,326.9 369.5,316.9C365.3,306.9 358.7,293.6 354.5,281.9C350.3,270.2 346.2,252.7 344.5,246.9"/>
<path class="ln" d="M584.5,146.3C585.8,151.7 590.3,169.2 592.0,178.8C593.7,188.4 593.3,197.5 594.5,203.8C595.8,210.0 595.3,215.5 599.5,216.3C603.7,217.1 616.2,210.0 619.5,208.8"/>
<path class="ln" d="M497.0,176.3C497.8,179.2 499.5,188.4 502.0,193.8C504.5,199.2 510.3,206.3 512.0,208.8"/>
<path class="ln" d="M95.0,625.6C91.7,621.0 82.5,609.4 75.0,598.1C67.5,586.9 57.5,572.3 50.0,558.1C42.5,544.0 35.4,527.3 30.0,513.1C24.6,499.0 20.4,487.3 17.5,473.1C14.6,459.0 12.5,443.1 12.5,428.1C12.5,413.1 14.6,397.3 17.5,383.1C20.4,369.0 24.2,354.8 30.0,343.1C35.8,331.5 42.9,323.2 52.5,313.1C62.1,303.0 73.8,291.0 87.7,282.6C101.6,274.2 119.9,269.4 136.0,262.8C152.0,256.3 168.9,248.2 184.2,243.1C199.6,238.0 217.1,234.7 228.1,232.1C239.0,229.6 244.2,229.9 250.0,227.7C255.9,225.6 261.0,220.4 263.2,219.0"/>
<path class="ln" d="M100.0,625.6C97.1,621.9 89.6,613.5 82.5,603.1C75.4,592.7 65.0,577.3 57.5,563.1C50.0,549.0 42.9,532.3 37.5,518.1C32.1,504.0 27.5,491.5 25.0,478.1C22.5,464.8 22.1,451.5 22.5,438.1C22.9,424.8 24.2,410.6 27.5,398.1C30.8,385.6 36.3,373.1 42.5,363.1C48.8,353.1 58.8,346.5 65.0,338.1C71.3,329.8 74.0,320.6 80.0,313.1C86.0,305.7 94.8,297.9 100.9,293.5C106.9,289.2 110.4,292.1 116.2,287.0C122.1,281.8 132.7,266.9 136.0,262.8"/>
<path class="ln" d="M105.0,625.6C101.3,620.2 90.0,606.0 82.5,593.1C75.0,580.2 66.7,563.1 60.0,548.1C53.3,533.1 46.5,518.1 42.5,503.1C38.5,488.1 36.6,472.3 36.0,458.1C35.4,444.0 37.1,429.8 39.0,418.1C40.9,406.5 43.2,396.5 47.5,388.1C51.8,379.8 59.2,375.6 65.0,368.1C70.8,360.6 77.5,352.3 82.5,343.1C87.5,334.0 92.3,319.2 95.0,313.1C97.7,307.1 92.6,311.8 98.7,306.7C104.8,301.6 118.8,289.9 131.6,282.6C144.4,275.3 160.8,268.3 175.4,262.8C190.1,257.4 204.7,253.0 219.3,249.7C233.9,246.4 248.5,244.8 263.2,243.1C277.8,241.4 292.4,240.2 307.0,239.6C321.6,239.0 337.7,239.4 350.9,239.6C364.0,239.8 377.2,239.6 386.0,240.9C394.7,242.2 399.1,244.2 403.5,247.5C407.9,250.8 411.2,255.5 412.3,260.6C413.4,265.8 413.0,270.1 410.1,278.2C407.2,286.2 400.2,297.9 394.7,308.9C389.3,319.9 381.6,335.2 377.2,344.0C372.8,352.7 369.2,356.4 368.4,361.5C367.7,366.6 370.6,371.8 372.8,374.7C375.0,377.6 379.0,379.4 381.6,379.1C384.1,378.7 387.1,373.6 388.2,372.5"/>
<path class="th" d="M103.1,306.7C108.2,303.3 121.7,292.8 133.8,286.1C145.8,279.4 161.2,271.8 175.4,266.3C189.7,260.9 204.7,256.5 219.3,253.2C233.9,249.9 248.5,248.3 263.2,246.6C277.8,244.9 292.4,243.7 307.0,243.1C321.6,242.5 338.1,242.9 350.9,243.1C363.7,243.3 375.7,243.2 383.8,244.4C391.8,245.7 395.3,247.7 399.1,250.6C403.0,253.4 406.1,256.9 407.0,261.5C407.9,266.1 407.2,270.3 404.4,278.2C401.6,286.1 395.5,297.9 390.4,308.9C385.2,319.9 376.5,338.1 373.7,344.0"/>
<path class="sk" d="M263.2,219.0C266.1,218.0 266.1,214.5 280.7,213.3C295.3,212.0 322.4,211.8 350.9,211.5C379.4,211.2 434.9,211.5 451.8,211.5L489.5,211.3C496.2,212.1 517.0,213.8 529.5,216.3C542.0,218.8 558.7,224.6 564.5,226.3L549.5,229.8C543.7,230.1 532.8,231.5 514.5,231.8C496.2,232.1 472.8,231.9 439.5,231.8C406.2,231.7 335.3,231.4 314.5,231.3L350.9,230.8C339.9,231.0 297.9,232.3 285.1,232.1C272.3,232.0 277.8,232.1 274.1,229.9C270.5,227.7 265.0,220.8 263.2,219.0Z"/>
<path class="th" d="M267.5,219.4C269.7,220.4 266.8,224.8 280.7,225.6C294.6,226.3 324.1,224.2 350.9,223.8C377.6,223.4 418.1,223.8 441.2,223.4C464.3,222.9 473.1,220.8 489.5,221.3C505.9,221.8 531.2,225.5 539.5,226.3"/>
<path class="lens" d="M439.5,232.8C452.0,232.7 498.7,232.5 514.5,232.3C530.3,232.0 531.2,231.5 534.5,231.3C531.2,233.4 522.0,238.4 514.5,243.8C507.0,249.2 497.8,256.7 489.5,263.8C481.2,270.9 468.7,282.5 464.5,286.3L449.5,283.8L439.5,232.8Z" fill="url(#dk4)"/>
<path class="ln" d="M439.5,232.8L448.5,283.8" style="stroke:#333;stroke-width:4.5"/>
<path class="sk" d="M434.5,290.9C432.4,293.2 426.6,297.2 422.0,304.4C417.4,311.7 412.3,323.3 407.0,334.4C401.8,345.5 394.7,363.4 390.5,370.9C386.3,378.4 385.3,378.6 382.0,379.4C378.7,380.2 373.0,378.4 370.5,375.9C368.0,373.4 365.9,370.1 367.0,364.4C368.1,358.7 372.4,351.5 377.0,341.9C381.6,332.3 389.5,317.7 394.5,306.9C399.5,296.1 404.5,285.2 407.0,276.9C409.5,268.6 409.1,260.2 409.5,256.9L409.5,263.8L439.5,253.8Z" style="stroke:none"/>
<path class="ln" d="M434.5,290.9C432.4,293.2 426.6,297.2 422.0,304.4C417.4,311.7 412.3,323.3 407.0,334.4C401.8,345.5 394.7,363.4 390.5,370.9C386.3,378.4 385.3,378.6 382.0,379.4C378.7,380.2 373.0,378.4 370.5,375.9C368.0,373.4 365.9,370.1 367.0,364.4C368.1,358.7 372.4,351.5 377.0,341.9C381.6,332.3 389.5,317.7 394.5,306.9C399.5,296.1 404.5,285.2 407.0,276.9C409.5,268.6 409.1,260.2 409.5,256.9"/>
<path class="sk" d="M457.0,286.9C453.7,287.1 442.8,285.8 437.0,287.9C431.2,290.0 427.0,292.5 422.0,299.4C417.0,306.3 411.6,318.6 407.0,329.4C402.4,340.2 396.2,354.8 394.5,364.4C392.8,374.0 394.5,379.8 397.0,386.9C399.5,394.0 404.1,401.1 409.5,406.9C414.9,412.7 421.2,417.6 429.5,421.9C437.8,426.2 450.3,431.2 459.5,432.9C468.7,434.6 475.3,434.2 484.5,431.9C493.7,429.7 509.5,421.5 514.5,419.4L514.5,296.9Z"/>
<path class="ln" d="M454.5,299.4C452.0,299.7 444.1,298.4 439.5,300.9C434.9,303.4 431.2,307.6 427.0,314.4C422.8,321.2 417.8,332.7 414.5,341.9C411.2,351.1 407.8,361.1 407.0,369.4C406.2,377.7 409.1,388.2 409.5,391.9"/>
<path class="sk" d="M485.3,434.2C489.4,438.3 500.6,450.5 509.8,458.7C519.1,466.9 529.3,476.6 540.6,483.3C551.8,490.0 561.5,495.0 577.4,498.7C593.3,502.3 626.0,504.3 635.8,505.4L635.8,439.7C629.1,441.3 606.6,448.7 595.8,449.5C585.1,450.3 578.4,447.7 571.3,444.6C564.1,441.5 558.0,436.4 552.8,431.1C547.7,425.8 542.6,415.7 540.6,412.7Z"/>
<path class="sk" d="M491.4,428.0C494.5,431.1 502.7,442.3 509.8,446.4C517.0,450.5 527.8,453.6 534.4,452.6C541.1,451.6 548.7,447.0 549.8,440.3C550.8,433.6 542.1,417.3 540.6,412.7Z"/>
<path class="ln" d="M502.5,424.9C504.9,427.8 512.7,438.3 517.2,442.1C521.7,446.0 527.4,447.3 529.5,448.3"/>
<path class="sk" d="M634.5,203.8C628.7,205.9 611.2,212.5 599.5,216.3C587.8,220.0 575.3,223.4 564.5,226.3C553.7,229.2 542.8,230.5 534.5,233.8C526.2,237.1 522.0,241.3 514.5,246.3C507.0,251.3 497.8,256.7 489.5,263.8C481.2,270.9 471.2,282.0 464.5,288.8C457.8,295.6 455.8,296.8 449.5,304.4C443.3,312.0 433.3,324.8 427.0,334.4C420.8,344.0 415.1,353.2 412.0,361.9C408.9,370.7 407.7,379.4 408.5,386.9C409.3,394.4 412.3,401.2 417.0,406.9C421.8,412.6 428.7,417.9 437.0,420.9C445.3,423.9 456.7,425.3 466.8,424.9C476.9,424.6 486.3,422.9 497.6,418.8C508.8,414.7 522.1,407.7 534.4,400.4C546.7,393.0 560.0,382.8 571.3,374.6C582.5,366.4 591.2,359.6 602.0,351.2C612.7,342.8 630.1,328.7 635.8,324.2Z"/>
<path class="ln" d="M454.5,324.4C456.2,325.2 460.8,324.8 464.5,329.4C468.3,334.0 473.3,344.0 477.0,351.9C480.8,359.8 485.8,369.4 487.0,376.9C488.3,384.4 487.4,390.7 484.5,396.9C481.6,403.2 475.3,410.7 469.5,414.4C463.7,418.2 456.6,419.8 449.5,419.4C442.4,419.0 433.3,416.5 427.0,411.9C420.8,407.3 414.8,399.4 412.0,391.9C409.3,384.4 408.8,374.8 410.5,366.9C412.2,359.0 417.2,350.7 422.0,344.4C426.8,338.2 434.1,332.7 439.5,329.4C444.9,326.1 452.0,325.2 454.5,324.4"/>
<path class="ln" d="M517.0,261.9C519.1,266.5 525.3,279.8 529.5,289.4C533.7,299.0 539.9,314.4 542.0,319.4"/>
<path class="ln" d="M502.0,306.9C503.7,309.4 508.7,317.6 512.0,321.9C515.3,326.2 520.3,331.1 522.0,332.9"/>
<path class="ln" d="M568.2,360.4C571.8,359.9 583.0,359.9 589.7,357.4C596.3,354.8 605.1,347.1 608.1,345.1"/>
<path class="ln" d="M605.1,342.0C607.1,342.3 612.7,344.6 617.3,343.9C621.9,343.1 630.1,338.7 632.7,337.7"/>
</g></g>
<!-- panel 5 -->
<g transform="translate(22.7,366.4) scale(0.36248)"><g clip-path="url(#pc)">
<path class="ln" d="M40.3,249.2C41.8,245.2 44.7,234.3 49.1,225.1C53.5,216.0 59.3,205.0 66.6,194.4C73.9,183.8 83.4,171.0 92.9,161.5C102.4,152.0 111.9,145.1 123.6,137.4C135.3,129.7 149.2,121.3 163.1,115.5C177.0,109.6 191.6,105.6 207.0,102.3C222.3,99.0 236.9,97.2 255.2,95.7C273.5,94.3 303.8,95.0 316.6,93.5C329.4,92.1 329.4,88.1 332.0,87.0"/>
<path class="ln" d="M46.9,247.1C48.7,243.4 52.4,234.6 57.8,225.1C63.3,215.6 73.2,198.8 79.8,190.0C86.4,181.3 94.4,175.4 97.3,172.5"/>
<path class="ln" d="M95.1,157.1C100.6,154.2 116.0,145.4 128.0,139.6C140.1,133.8 156.5,127.5 167.5,122.1C178.5,116.6 187.2,109.8 193.8,106.7C200.4,103.6 204.8,103.8 207.0,103.2"/>
<path class="ln" d="M95.1,157.1C95.5,159.7 94.8,169.2 97.3,172.5C99.9,175.8 104.6,179.1 110.5,176.9C116.3,174.7 125.8,164.8 132.4,159.3C139.0,153.9 142.6,149.5 150.0,144.0C157.3,138.5 169.0,131.2 176.3,126.4C183.6,121.7 190.9,117.3 193.8,115.5"/>
<path class="ln" d="M82.0,183.5C83.1,184.9 84.5,192.6 88.5,192.2C92.6,191.9 103.2,183.1 106.1,181.3"/>
<path class="ln" d="M145.6,148.4C152.1,144.0 171.2,128.3 185.0,122.1C198.9,115.8 212.8,113.6 228.9,111.1C245.0,108.5 264.0,106.7 281.5,106.7C299.1,106.7 320.2,108.6 334.2,111.1C348.1,113.6 351.8,118.6 365.3,121.6C378.9,124.6 403.7,126.6 415.3,129.1C427.0,131.6 430.3,133.2 435.3,136.6C440.3,139.9 444.5,143.7 445.3,149.1C446.2,154.5 444.1,161.6 440.3,169.1C436.6,176.6 428.7,185.7 422.8,194.1C417.0,202.4 409.5,212.0 405.3,219.1C401.2,226.2 398.2,232.0 397.8,236.6C397.4,241.2 400.3,244.9 402.8,246.6C405.3,248.2 409.5,249.1 412.8,246.6C416.2,244.1 418.7,238.7 422.8,231.6C427.0,224.5 433.7,210.7 437.8,204.1C442.0,197.4 443.2,194.1 447.8,191.6C452.4,189.1 459.9,188.2 465.3,189.1C470.7,189.9 475.7,193.2 480.3,196.6C484.9,199.9 490.7,207.0 492.8,209.1"/>
<path class="th" d="M180.7,124.2C188.7,122.8 212.1,117.7 228.9,115.5C245.7,113.3 264.0,111.1 281.5,111.1C299.1,111.1 320.2,113.1 334.2,115.5C348.1,117.9 352.6,122.6 365.3,125.6C378.0,128.5 399.9,130.7 410.3,133.1C420.7,135.5 423.4,137.0 427.8,140.1C432.2,143.2 436.0,146.7 436.8,151.6C437.7,156.4 436.4,161.6 432.8,169.1C429.2,176.6 420.3,187.4 415.3,196.6C410.3,205.7 404.9,219.5 402.8,224.1"/>
<path class="ln" d="M465.3,134.1C465.3,141.2 468.2,168.7 465.3,176.6C462.4,184.5 452.8,179.1 447.8,181.6C442.8,184.1 437.4,189.9 435.3,191.6"/>
<path class="ln" d="M450.3,199.1C452.4,198.7 458.7,195.7 462.8,196.6C467.0,197.4 472.0,200.7 475.3,204.1C478.7,207.4 481.6,214.5 482.8,216.6"/>
<path class="sk" d="M315.3,94.1C318.2,93.1 324.5,88.1 332.8,88.1C341.2,88.1 351.6,91.4 365.3,94.1C379.1,96.7 398.7,100.3 415.3,104.1C432.0,107.8 448.7,112.8 465.3,116.6C482.0,120.3 500.3,123.7 515.3,126.6C530.3,129.5 543.7,131.2 555.3,134.1C567.0,137.0 575.3,139.5 585.3,144.1C595.3,148.7 610.3,158.7 615.3,161.6C610.3,159.9 600.3,154.9 585.3,151.6C570.3,148.2 544.5,144.5 525.3,141.6C506.2,138.7 482.0,135.7 470.3,134.1C458.7,132.4 464.5,133.7 455.3,131.6C446.2,129.5 430.3,124.9 415.3,121.6C400.3,118.2 382.0,114.5 365.3,111.6C348.7,108.7 323.7,105.3 315.3,104.1L332.0,87.0C330.9,87.7 328.0,90.3 325.4,91.4C322.8,92.5 318.1,93.2 316.6,93.5Z"/>
<path class="th" d="M335.3,91.6C340.3,93.2 352.0,98.2 365.3,101.6C378.7,104.9 398.7,107.8 415.3,111.6C432.0,115.3 448.7,120.5 465.3,124.1C482.0,127.7 498.7,129.7 515.3,133.1C532.0,136.4 552.0,140.6 565.3,144.1C578.7,147.6 590.3,152.4 595.3,154.1"/>
<path class="lens" d="M471.3,135.1C480.3,136.2 506.3,138.8 525.3,141.6C544.3,144.3 570.3,148.2 585.3,151.6C600.3,154.9 610.3,159.9 615.3,161.6C612.0,162.4 605.3,163.7 595.3,166.6C585.3,169.5 568.7,174.1 555.3,179.1C542.0,184.1 524.9,192.0 515.3,196.6C505.7,201.2 500.7,204.9 497.8,206.6C495.7,204.5 489.1,198.7 485.3,194.1C481.6,189.5 477.0,181.6 475.3,179.1L471.3,135.1Z" fill="url(#dk5)"/>
<path class="ln" d="M471.3,135.1L474.3,179.1" style="stroke:#222;stroke-width:3.5"/>
<path class="sk" d="M635.3,169.1C632.0,167.8 622.0,162.0 615.3,161.6C608.7,161.2 605.3,163.7 595.3,166.6C585.3,169.5 568.7,174.1 555.3,179.1C542.0,184.1 527.0,190.7 515.3,196.6C503.7,202.4 494.5,208.2 485.3,214.1C476.2,219.9 467.4,224.9 460.3,231.6C453.2,238.2 446.6,247.0 442.8,254.1C439.1,261.2 437.8,267.4 437.8,274.1C437.8,280.7 439.5,287.4 442.8,294.1C446.2,300.7 451.6,309.1 457.8,314.1C464.1,319.1 470.7,322.8 480.3,324.1C489.9,325.3 502.8,323.7 515.3,321.6C527.8,319.5 542.0,315.7 555.3,311.6C568.7,307.4 582.0,302.4 595.3,296.6C608.7,290.7 628.7,279.9 635.3,276.6Z"/>
<path class="ln" d="M457.8,246.6C460.7,244.5 468.2,237.4 475.3,234.1C482.4,230.7 493.2,227.4 500.3,226.6C507.4,225.7 512.8,225.7 517.8,229.1C522.8,232.4 527.0,239.9 530.3,246.6C533.7,253.2 537.8,262.4 537.8,269.1C537.8,275.7 534.9,281.6 530.3,286.6C525.7,291.6 517.8,296.2 510.3,299.1C502.8,302.0 492.8,304.1 485.3,304.1C477.8,304.1 470.7,302.8 465.3,299.1C459.9,295.3 455.3,287.8 452.8,281.6C450.3,275.3 449.5,267.4 450.3,261.6C451.2,255.7 456.6,249.1 457.8,246.6"/>
<path class="ln" d="M590.3,186.6C592.4,189.5 599.5,197.8 602.8,204.1C606.2,210.3 609.1,218.2 610.3,224.1C611.6,229.9 610.3,236.6 610.3,239.1"/>
<path class="ln" d="M582.8,221.6C584.1,224.1 587.4,232.4 590.3,236.6C593.3,240.7 598.7,244.9 600.3,246.6"/>
<path class="wf" d="M247.8,409.5C251.6,408.4 263.3,401.8 270.3,402.8C277.3,403.7 284.8,409.3 290.0,415.1C295.1,420.9 300.2,430.1 301.2,437.6C302.1,445.1 298.8,453.5 295.6,460.0C292.3,466.6 286.7,471.7 281.5,476.9C276.4,482.0 267.5,488.6 264.7,490.9L186.1,479.7C188.0,475.5 193.6,461.9 197.3,454.4C201.1,446.9 206.7,438.1 208.5,434.8Z"/>
<path class="ln" d="M247.8,409.5C251.6,408.4 263.3,401.8 270.3,402.8C277.3,403.7 284.8,409.3 290.0,415.1C295.1,420.9 300.2,430.1 301.2,437.6C302.1,445.1 298.8,453.5 295.6,460.0C292.3,466.6 286.7,471.7 281.5,476.9C276.4,482.0 267.5,488.6 264.7,490.9"/>
<path class="ln" d="M186.1,479.7C188.0,475.5 193.6,461.9 197.3,454.4C201.1,446.9 206.7,438.1 208.5,434.8"/>
<path class="ln" d="M202.9,448.8L191.7,468.5"/>
<path class="sk" d="M281.5,476.9C285.3,477.8 297.9,478.8 304.0,482.5C310.1,486.2 315.0,491.9 318.0,499.3C321.0,506.8 322.0,516.2 322.0,527.4C322.0,538.6 320.1,553.6 318.0,566.7C316.0,579.8 312.1,594.8 309.6,606.0C307.1,617.2 304.0,629.4 302.9,634.1L225.4,634.1C226.8,626.6 231.5,602.3 233.8,589.2C236.2,576.1 237.1,566.7 239.4,555.5C241.8,544.3 243.6,532.6 247.8,521.8C252.1,511.0 261.9,496.1 264.7,490.9Z"/>
<path class="ln" d="M217.0,515.1C220.2,515.4 231.0,516.7 236.6,517.3C242.2,518.0 248.3,518.7 250.7,519.0"/>
<path class="ln" d="M0.8,423.5C2.7,421.2 7.8,412.6 12.1,409.5C16.3,406.4 23.8,405.8 26.1,405.0"/>
<path class="lens" d="M-3.6,288.3C0.8,285.2 14.7,275.1 22.8,269.9C30.8,264.6 37.4,260.7 44.7,256.7C52.0,252.7 57.8,249.6 66.6,245.7C75.4,241.9 87.1,237.0 97.3,233.5C107.6,230.0 118.9,227.0 128.0,224.7C137.2,222.4 148.1,220.7 152.1,219.9C154.0,220.4 159.1,221.0 163.1,222.9C167.1,224.9 174.1,230.2 176.3,231.7C182.1,231.3 199.7,230.2 211.4,229.5C223.1,228.8 236.9,227.5 246.4,227.3C255.9,227.2 264.7,228.4 268.4,228.6L277.1,221.6L303.5,220.7C304.9,221.8 310.4,222.9 312.2,227.3C314.1,231.7 313.3,239.4 314.4,247.1C315.5,254.7 318.8,267.5 318.8,273.4C318.8,279.2 315.2,280.7 314.4,282.1L292.8,291.6C290.4,295.4 282.5,305.7 278.7,314.1C275.0,322.5 272.6,334.7 270.3,342.1C268.0,349.6 265.6,356.2 264.7,359.0L270.3,370.2C269.4,373.0 268.4,380.5 264.7,387.1C260.9,393.6 253.5,403.0 247.8,409.5C242.2,416.1 237.6,422.1 231.0,426.4C224.5,430.6 215.1,433.8 208.5,434.8C202.0,435.7 194.5,432.4 191.7,432.0C178.6,431.0 136.0,429.2 113.1,426.4C90.2,423.5 67.3,417.9 54.2,415.1C41.1,412.3 41.1,412.8 34.5,409.5C28.0,406.2 20.0,400.6 14.9,395.5C9.7,390.3 6.9,383.8 3.6,378.6C0.4,373.5 -3.4,366.9 -4.8,364.6Z" fill="url(#lg5)"/>
<path class="sk" d="M40.1,634.1C42.9,624.7 51.8,595.7 57.0,577.9C62.1,560.2 69.6,545.2 71.0,527.4C72.4,509.6 67.7,490.0 65.4,471.3C63.1,452.6 59.3,432.0 57.0,415.1C54.6,398.3 51.4,385.2 51.4,370.2C51.4,355.2 52.3,336.5 57.0,325.3C61.6,314.1 71.0,307.5 79.4,302.8C87.8,298.2 98.1,295.8 107.5,297.2C116.9,298.6 127.6,303.8 135.6,311.3C143.5,318.8 149.6,330.4 155.2,342.1C160.8,353.8 165.0,367.4 169.3,381.4C173.5,395.5 177.7,410.5 180.5,426.4C183.3,442.3 183.8,461.0 186.1,476.9C188.4,492.8 190.8,507.8 194.5,521.8C198.3,535.8 203.4,549.9 208.5,561.1C213.7,572.3 218.8,580.7 225.4,589.2C231.9,597.6 240.4,604.1 247.8,611.6C255.3,619.1 266.6,630.3 270.3,634.1Z"/>
<path class="sk" d="M-4.8,429.2C-1.0,431.5 9.7,434.8 17.7,443.2C25.6,451.6 35.4,468.5 42.9,479.7C50.4,490.9 57.9,502.6 62.6,510.6C67.3,518.5 71.9,516.2 71.0,527.4C70.1,538.6 62.1,560.2 57.0,577.9C51.8,595.7 42.9,624.7 40.1,634.1L-4.8,634.1Z" style="stroke:none"/>
<path class="ln" d="M68.2,381.4C66.8,375.8 60.2,357.6 59.8,347.8C59.3,337.9 61.2,329.0 65.4,322.5C69.6,315.9 77.6,311.3 85.0,308.5C92.5,305.7 102.8,303.8 110.3,305.7C117.8,307.5 125.3,312.7 130.0,319.7C134.6,326.7 137.0,340.7 138.4,347.8C139.8,354.8 142.6,357.6 138.4,361.8C134.2,366.0 124.8,369.7 113.1,373.0C101.4,376.3 75.7,380.0 68.2,381.4"/>
<path class="ln" d="M87.8,432.0C92.1,430.6 104.2,425.6 113.1,423.5C122.0,421.5 136.5,420.3 141.2,419.6"/>
<path class="ln" d="M93.5,455.6C97.7,454.6 109.8,452.5 118.7,449.9C127.6,447.4 142.1,442.0 146.8,440.4"/>
<path class="ln" d="M194.5,572.3L208.5,566.7"/>
<path class="ln" d="M42.9,479.7L57.0,485.3"/>
<path class="ln" d="M31.7,499.3C34.5,500.7 42.9,505.0 48.5,507.8C54.2,510.6 62.6,514.8 65.4,516.2"/>
<path class="ln" d="M0.8,577.9C5.5,578.4 20.5,579.3 28.9,580.7C37.3,582.1 47.6,585.4 51.4,586.4"/>
<path class="ln" d="M23.3,611.6L45.7,603.2"/>
</g></g>
<!-- panel 6 -->
<g transform="translate(273.2,366.4) scale(0.36248)"><g clip-path="url(#pc)">
<path class="sk" d="M429.0,144.1C434.0,139.9 446.5,127.4 459.0,119.1C471.5,110.7 488.1,102.0 504.0,94.1C519.8,86.2 539.0,77.8 554.0,71.6C569.0,65.3 578.8,63.0 594.0,56.6C609.1,50.1 636.5,36.9 645.0,33.0L645.0,300.0L639.0,254.1L464.0,204.1Z"/>
<path class="ln" d="M581.5,134.1C584.4,136.6 594.4,143.2 599.0,149.1C603.5,154.9 607.3,165.7 609.0,169.1"/>
<path class="ln" d="M599.0,124.1C599.8,127.4 601.9,137.8 604.0,144.1C606.0,150.3 610.2,158.7 611.5,161.6"/>
<path class="ln" d="M36.9,627.9C37.4,623.0 40.7,606.7 39.4,598.4C38.2,590.2 33.6,587.6 29.4,578.4C25.3,569.2 19.4,555.1 14.4,543.4C9.4,531.7 1.9,551.9 -0.6,508.4C-3.1,464.9 -4.9,327.2 -0.6,282.1C3.8,237.1 14.8,251.4 25.8,238.3C36.7,225.1 51.3,212.7 65.2,203.2C79.1,193.7 94.5,187.5 109.1,181.3C123.7,175.1 134.7,171.4 153.0,165.9C171.2,160.4 199.0,152.8 218.7,148.4C238.5,144.0 256.8,141.4 271.4,139.6C286.0,137.8 297.7,138.1 306.5,137.4C315.2,136.7 321.1,135.6 324.0,135.2"/>
<path class="ln" d="M28.0,242.7C31.2,239.0 39.3,227.3 47.7,220.7C56.1,214.2 67.4,206.9 78.4,203.2C89.4,199.5 101.8,203.6 113.5,198.8C125.2,194.1 142.7,178.7 148.6,174.7"/>
<path class="ln" d="M28.0,242.7C28.3,246.3 27.6,259.1 30.2,264.6C32.7,270.1 37.5,274.8 43.3,275.6C49.2,276.3 57.9,273.7 65.2,269.0C72.5,264.2 78.4,256.6 87.2,247.1C95.9,237.6 111.3,219.3 117.9,212.0C124.4,204.7 125.2,204.7 126.6,203.2"/>
<path class="ln" d="M8.2,304.1C11.1,299.0 19.9,278.1 25.8,273.4C31.6,268.6 40.4,275.2 43.3,275.6"/>
<path class="ln" d="M-0.6,330.0C1.6,324.9 6.0,307.7 12.6,299.7C19.2,291.7 34.5,285.1 38.9,282.1"/>
<path class="ln" d="M117.9,207.6C127.4,203.2 156.6,188.2 174.9,181.3C193.2,174.3 210.0,169.6 227.5,165.9C245.1,162.3 259.7,159.7 280.2,159.3C300.6,159.0 329.9,161.5 350.3,163.7C370.8,165.9 394.2,171.0 403.0,172.5"/>
<path class="ln" d="M144.2,181.3C153.0,178.3 178.5,168.5 196.8,163.7C215.1,159.0 235.6,155.3 253.8,152.8C272.1,150.2 293.3,147.6 306.5,148.4C319.6,149.1 318.2,155.0 332.8,157.1C347.4,159.3 376.2,160.8 394.2,161.5C412.2,162.3 432.9,161.5 440.7,161.5"/>
<path class="ln" d="M24.4,313.4C21.9,320.1 13.2,340.1 9.4,353.4C5.7,366.7 3.6,383.4 1.9,393.4C0.3,403.4 -0.1,410.1 -0.6,413.4"/>
<path class="ln" d="M39.4,593.4C41.1,589.2 45.3,579.2 49.4,568.4C53.6,557.6 59.4,540.9 64.4,528.4C69.4,515.9 73.6,505.1 79.4,493.4C85.3,481.7 92.8,468.8 99.4,458.4C106.1,448.0 116.1,435.5 119.4,430.9"/>
<path class="sk" d="M306.5,141.8C309.4,140.7 309.4,135.6 324.0,135.2C338.6,134.8 383.4,139.0 394.2,139.6C405.0,140.2 381.5,137.9 389.0,139.1C396.4,140.2 418.1,143.2 439.0,146.6C459.8,149.9 491.5,155.3 514.0,159.1C536.5,162.8 554.0,165.2 574.0,169.1C594.0,173.0 624.0,180.3 634.0,182.6L634.0,198.1C622.3,196.2 587.3,189.7 564.0,186.6C540.6,183.4 510.6,180.7 494.0,179.1C477.3,177.4 477.3,178.2 464.0,176.6C450.6,174.9 430.6,171.8 414.0,169.1C397.3,166.3 367.2,161.7 364.0,160.1C360.7,158.5 399.4,160.0 394.2,159.3C389.0,158.6 345.9,157.7 332.8,155.8C319.6,154.0 318.2,149.6 315.2,148.4Z"/>
<path class="th" d="M324.0,146.6C334.8,147.0 365.6,146.6 389.0,149.1C412.3,151.6 439.0,157.4 464.0,161.6C489.0,165.7 514.0,169.7 539.0,174.1C564.0,178.5 601.5,185.7 614.0,188.1"/>
<path class="lens" d="M498.0,181.6C509.0,182.4 541.3,183.9 564.0,186.6C586.6,189.2 622.3,195.7 634.0,197.6C629.0,199.5 615.6,203.8 604.0,209.1C592.3,214.3 576.5,221.6 564.0,229.1C551.5,236.6 534.8,249.9 529.0,254.1L500.0,236.6L498.0,181.6Z" fill="url(#dk5)"/>
<path class="ln" d="M498.0,181.6L500.0,236.6" style="stroke:#333;stroke-width:4"/>
<path class="ln" d="M489.0,179.1L490.0,234.1"/>
<path class="wf" d="M384.0,410.9C388.1,410.9 400.6,408.4 409.0,410.9C417.3,413.4 427.7,419.7 434.0,425.9C440.2,432.2 444.6,441.3 446.5,448.4C448.3,455.5 446.6,463.0 445.0,468.4C443.3,473.8 437.9,478.8 436.5,480.9L364.0,478.4L344.0,433.4Z"/>
<path class="ln" d="M384.0,410.9C388.1,410.9 400.6,408.4 409.0,410.9C417.3,413.4 427.7,419.7 434.0,425.9C440.2,432.2 444.6,441.3 446.5,448.4C448.3,455.5 446.6,463.0 445.0,468.4C443.3,473.8 437.9,478.8 436.5,480.9"/>
<path class="sk" d="M436.5,480.9C439.4,479.2 447.7,472.2 454.0,470.9C460.2,469.7 467.7,470.1 474.0,473.4C480.2,476.7 486.9,482.6 491.5,490.9C496.0,499.2 499.5,511.3 501.5,523.4C503.4,535.5 503.4,550.1 503.0,563.4C502.5,576.7 500.6,591.7 499.0,603.4C497.3,615.1 494.0,628.4 493.0,633.4L404.0,633.4C404.0,623.4 403.1,589.2 404.0,573.4C404.8,557.6 406.5,549.2 409.0,538.4C411.5,527.6 414.4,518.0 419.0,508.4C423.5,498.8 433.5,485.5 436.5,480.9Z"/>
<path class="sk" d="M349.0,590.9C351.5,589.2 358.1,583.0 364.0,580.9C369.8,578.8 377.3,577.2 384.0,578.4C390.6,579.7 397.3,583.4 404.0,588.4C410.6,593.4 415.6,600.9 424.0,608.4C432.3,615.9 449.0,629.2 454.0,633.4L334.0,633.4Z"/>
<path class="lens" d="M49.8,350.7C49.6,348.6 47.3,343.5 48.6,338.4C49.9,333.3 52.7,329.2 57.8,320.0C62.9,310.8 71.6,294.2 79.3,283.1C87.0,272.1 95.2,262.3 103.9,253.6C112.6,244.9 121.3,237.5 131.5,230.9C141.8,224.4 153.5,219.4 165.3,214.3C177.1,209.2 188.8,204.3 202.2,200.2C215.5,196.1 234.4,192.3 245.2,189.7C255.9,187.2 263.1,185.7 266.7,184.8L275.9,191.0C278.9,191.2 283.0,193.2 294.3,192.2C305.6,191.2 327.1,186.9 343.4,184.8C359.8,182.8 384.4,180.7 392.6,179.9C394.6,178.5 397.7,173.4 404.9,171.3C412.0,169.3 427.9,166.9 435.6,167.6C443.3,168.4 446.8,170.7 450.9,175.6C455.0,180.5 457.6,188.4 460.1,197.1C462.7,205.8 465.1,219.6 466.3,227.8C467.5,236.0 467.3,243.2 467.5,246.3C464.8,248.8 457.3,254.5 450.9,261.6C444.6,268.8 434.6,280.6 429.4,289.3C424.3,298.0 423.3,306.7 420.2,313.8C417.1,321.0 413.6,326.1 411.0,332.3C408.4,338.4 405.4,345.6 404.9,350.7C404.4,355.8 407.4,360.9 407.9,363.0C406.4,367.1 403.3,379.4 398.7,387.5C394.1,395.7 387.5,405.5 380.3,412.1C373.1,418.8 363.9,423.9 355.7,427.5C347.5,431.1 335.2,432.6 331.2,433.6L153.0,433.6C147.9,432.1 131.5,429.0 122.3,424.4C113.1,419.8 105.9,413.1 97.7,406.0C89.5,398.8 80.3,389.1 73.2,381.4C66.0,373.7 58.6,365.0 54.7,359.9C50.8,354.8 50.6,352.2 49.8,350.7Z" fill="url(#lg6)"/>
<path class="sk" d="M438.6,316.9C437.6,321.5 432.0,335.8 432.5,344.5C433.0,353.2 436.1,360.9 441.7,369.1C447.3,377.3 456.1,387.0 466.3,393.7C476.5,400.3 491.9,406.2 503.1,409.0C514.4,411.9 528.7,410.6 533.9,410.9L521.6,277.0L469.4,265.9Z"/>
<path class="sk" d="M532.6,264.7C530.8,262.1 527.0,253.6 521.6,249.3C516.1,245.0 507.8,240.2 500.1,238.9C492.4,237.6 482.7,238.9 475.5,241.3C468.3,243.8 463.2,247.7 457.1,253.6C450.9,259.6 444.3,268.5 438.6,277.0C433.0,285.5 427.1,296.9 423.3,304.6C419.5,312.3 416.4,318.6 415.9,323.0C415.4,327.4 418.0,329.7 420.2,331.0C422.5,332.4 426.4,333.4 429.4,331.0C432.5,328.7 434.6,323.7 438.6,316.9C442.7,310.1 448.9,299.0 454.0,290.5C459.1,282.0 463.7,271.8 469.4,265.9C475.0,260.1 481.6,256.9 487.8,255.5C493.9,254.0 500.8,254.8 506.2,257.3C511.6,259.9 518.0,268.6 520.3,270.8Z"/>
<path class="ln" d="M411.5,313.4C411.9,315.9 411.5,325.9 414.0,328.4C416.5,330.9 423.1,330.9 426.5,328.4C429.8,325.9 432.7,315.9 434.0,313.4"/>
<path class="sk" d="M514.0,413.4C517.3,417.6 526.5,429.2 534.0,438.4C541.5,447.6 549.8,458.8 559.0,468.4C568.1,478.0 576.5,487.6 589.0,495.9C601.5,504.2 626.5,514.7 634.0,518.4L634.0,440.9C629.8,439.7 616.0,436.7 609.0,433.4C601.9,430.1 594.4,423.0 591.5,420.9Z"/>
<path class="sk" d="M549.0,410.9C550.6,414.7 554.8,428.0 559.0,433.4C563.1,438.8 569.4,443.0 574.0,443.4C578.5,443.8 583.5,439.7 586.5,435.9C589.4,432.2 591.0,427.2 591.5,420.9C591.9,414.7 589.4,402.2 589.0,398.4Z"/>
<path class="ln" d="M599.0,413.4C601.5,415.5 608.5,422.4 614.0,425.9C619.4,429.4 628.5,433.0 631.5,434.4"/>
<path class="sk" d="M634.0,202.1C629.0,204.1 615.6,208.7 604.0,214.1C592.3,219.4 575.6,227.4 564.0,234.1C552.3,240.7 539.2,249.0 534.0,254.1C528.7,259.2 537.8,260.9 532.6,264.7C527.5,268.5 513.2,270.8 503.1,277.0C493.1,283.1 480.6,292.3 472.4,301.5C464.2,310.8 457.6,323.0 454.0,332.3C450.4,341.5 449.9,348.6 450.9,356.8C452.0,365.0 454.5,374.2 460.1,381.4C465.8,388.6 474.5,395.7 484.7,399.8C495.0,403.9 507.2,407.0 521.6,406.0C535.9,404.9 551.3,399.8 570.7,393.7C590.2,387.5 627.0,373.2 638.3,369.1Z"/>
<path class="ln" d="M466.3,335.3C469.4,330.7 475.5,315.6 484.7,307.7C493.9,299.8 511.3,290.9 521.6,288.0C531.8,285.2 539.0,285.2 546.1,290.5C553.3,295.8 560.0,311.0 564.6,320.0C569.2,329.0 575.8,335.8 573.8,344.5C571.7,353.2 560.0,365.0 552.3,372.2C544.6,379.4 538.0,385.2 527.7,387.5C517.5,389.9 500.6,389.9 490.9,386.3C481.1,382.7 473.5,374.5 469.4,366.0C465.3,357.5 466.8,340.4 466.3,335.3"/>
<path class="ln" d="M614.0,256.6C614.8,258.7 616.5,265.3 619.0,269.1C621.4,272.8 626.9,277.4 628.5,279.1"/>
<path class="sk" d="M192.0,633.4C192.8,626.7 195.3,605.1 197.0,593.4C198.6,581.7 201.1,571.7 202.0,563.4C202.8,555.1 203.2,550.1 202.0,543.4C200.7,536.7 198.2,533.4 194.5,523.4C190.7,513.4 184.5,495.9 179.5,483.4C174.5,470.9 168.6,460.1 164.4,448.4C160.3,436.7 157.4,422.5 154.4,413.4C151.5,404.3 148.6,403.1 146.9,393.7C145.1,384.3 143.3,368.6 143.8,356.8C144.3,345.1 145.8,333.5 149.9,323.0C154.0,312.6 160.2,301.2 168.4,294.2C176.6,287.1 187.8,281.7 199.1,280.7C210.3,279.6 225.2,282.7 235.9,288.0C246.7,293.4 254.6,303.8 263.6,312.6C272.6,321.4 282.9,331.1 290.1,341.0C297.4,350.8 302.1,361.5 307.0,371.7C311.9,381.9 315.7,392.7 319.3,402.4C322.9,412.1 326.5,423.4 328.5,430.0C330.5,436.7 330.5,435.7 331.6,442.3C332.6,449.0 332.6,460.2 334.6,469.9C336.7,479.7 340.0,489.9 343.9,500.6C347.7,511.3 355.1,527.8 357.7,534.1C360.2,540.4 356.2,533.5 359.0,538.4C361.7,543.3 370.6,557.2 374.0,563.4C377.3,569.7 378.1,573.8 379.0,575.9C376.5,576.7 369.0,578.4 364.0,580.9C359.0,583.4 351.5,589.2 349.0,590.9L344.0,633.4Z"/>
<path class="ln" d="M189.5,553.4C189.9,558.4 192.4,571.0 192.0,583.4C191.5,595.8 187.8,620.5 187.0,627.9"/>
<path class="ln" d="M171.4,384.5C169.6,378.8 162.9,361.4 160.4,350.7C157.8,339.9 153.2,328.7 156.1,320.0C159.0,311.3 168.9,303.1 177.6,298.5C186.3,293.9 198.6,291.3 208.3,292.3C218.0,293.4 228.8,298.5 235.9,304.6C243.1,310.8 247.7,321.5 251.3,329.2C254.9,336.9 256.4,347.1 257.4,350.7C250.3,353.8 228.8,363.5 214.4,369.1C200.1,374.7 178.6,381.9 171.4,384.5"/>
<path class="ln" d="M192.0,450.9C195.7,447.6 205.7,436.3 214.5,430.9C223.2,425.5 234.9,421.3 244.5,418.4C254.0,415.5 267.4,414.2 272.0,413.4"/>
<path class="ln" d="M199.5,470.9C202.8,467.6 210.7,456.7 219.5,450.9C228.2,445.1 246.5,438.4 252.0,435.9"/>
<path class="ln" d="M116.9,525.9C122.4,528.8 139.9,539.2 149.4,543.4C159.0,547.6 166.5,550.1 174.5,550.9C182.4,551.7 193.2,548.8 197.0,548.4"/>
<path class="ln" d="M154.4,510.9C158.6,513.4 171.9,520.5 179.5,525.9C187.0,531.3 196.1,540.5 199.5,543.4"/>
<path class="bl" d="M338.0,447.4L364.0,455.9L366.5,475.9L340.0,467.4Z"/>
<path class="bl" d="M384.0,459.4L401.5,460.9L405.0,479.4L388.0,478.4Z"/>
<path class="bl" d="M420.0,460.9L433.0,460.9L439.0,477.4L425.0,478.4Z"/>
<path class="bl" d="M354.0,240.1L360.0,231.6L396.5,249.1L406.5,235.1L459.0,278.1L389.0,274.1L390.0,260.1Z"/>
<path class="bl" d="M203.4,282.1C203.8,276.3 203.4,260.2 205.6,247.1C207.8,233.9 211.4,217.1 216.6,203.2C221.7,189.3 228.6,176.1 236.3,163.7C244.0,151.3 255.3,137.4 262.6,128.6C269.9,119.9 277.2,114.0 280.2,111.1L266.1,97.9L341.6,75.1L306.5,139.6L295.5,124.2C292.2,127.9 282.7,137.4 275.8,146.2C268.8,155.0 260.4,165.2 253.8,176.9C247.3,188.6 241.0,203.9 236.3,216.4C231.5,228.8 227.5,242.3 225.3,251.4C223.1,260.6 223.5,267.9 223.1,271.2Z"/>
</g></g>
<!-- panel 7 -->
<g transform="translate(523.7,366.4) scale(0.36248)"><g clip-path="url(#pc)">
<path class="sk" d="M357.1,158.6C363.2,154.0 379.1,142.2 394.0,131.0C408.8,119.7 429.8,101.8 446.2,91.0C462.5,80.3 477.4,76.2 492.2,66.5C507.1,56.7 521.9,41.7 535.2,32.7C548.5,23.7 561.9,16.7 572.1,12.4C582.3,8.1 589.5,6.6 596.7,6.9C603.8,7.2 608.4,9.2 615.1,14.3C621.7,19.3 633.0,33.2 636.6,37.0L640.3,51.5L640.3,236.5L465.3,191.5Z"/>
<path class="ln" d="M522.8,119.0C523.2,122.7 522.8,133.6 525.3,141.5C527.8,149.4 535.7,162.3 537.8,166.5"/>
<path class="ln" d="M507.8,146.5C510.7,149.0 518.2,156.5 525.3,161.5C532.4,166.5 546.2,174.0 550.3,176.5"/>
<path class="ln" d="M615.3,86.5C616.2,89.0 618.3,97.7 620.3,101.5C622.4,105.2 626.6,107.7 627.8,109.0"/>
<path class="ln" d="M0.8,260.2C6.7,255.1 25.0,237.2 35.9,229.5C46.9,221.8 56.4,217.8 66.6,214.2C76.9,210.5 92.2,208.7 97.3,207.6"/>
<path class="ln" d="M0.8,282.1C5.2,277.8 18.4,263.1 27.1,255.8C35.9,248.5 46.9,244.9 53.5,238.3C60.0,231.7 64.4,220.0 66.6,216.4"/>
<path class="ln" d="M0.8,317.2C3.8,315.0 14.0,307.7 18.4,304.1C22.8,300.4 25.7,296.8 27.1,295.3"/>
<path class="ln" d="M0.8,448.4C4.2,443.4 13.3,427.2 20.8,418.4C28.3,409.7 37.5,400.9 45.8,395.9C54.2,390.9 66.7,389.7 70.8,388.4"/>
<path class="sk" d="M368.3,378.4C370.0,382.2 376.7,393.8 378.3,400.9C380.0,408.0 380.0,415.1 378.3,420.9C376.7,426.7 372.9,431.7 368.3,435.9C363.7,440.1 358.7,441.7 350.8,445.9C342.9,450.1 332.9,455.1 320.8,460.9C308.7,466.7 285.4,477.6 278.3,480.9L278.3,378.4Z"/>
<path class="sk" d="M368.3,442.4C371.2,443.8 380.8,445.7 385.8,450.9C390.8,456.1 395.8,465.5 398.3,473.4C400.8,481.3 401.7,490.9 400.8,498.4C400.0,505.9 397.5,513.4 393.3,518.4C389.2,523.4 382.9,525.5 375.8,528.4C368.7,531.3 355.0,534.7 350.8,535.9L290.8,543.4L278.3,480.9C285.4,477.6 308.7,466.7 320.8,460.9C332.9,455.1 342.9,449.0 350.8,445.9C358.7,442.8 365.4,443.0 368.3,442.4Z"/>
<path class="sk" d="M375.8,528.4C379.2,529.2 390.0,529.7 395.8,533.4C401.7,537.2 407.3,543.4 410.8,550.9C414.3,558.4 416.4,568.8 416.8,578.4C417.2,588.0 415.0,598.4 413.3,608.4C411.7,618.4 407.9,633.4 406.8,638.4L350.8,638.4C345.8,629.2 329.2,597.6 320.8,583.4C312.5,569.2 304.2,558.4 300.8,553.4L315.8,573.4C318.3,570.1 325.0,559.7 330.8,553.4C336.7,547.2 347.5,538.8 350.8,535.9Z"/>
<path class="ln" d="M338.3,553.4L323.3,568.4"/>
<path class="lens" d="M18.0,298.5C19.3,295.7 19.6,290.6 25.4,281.9C31.2,273.2 42.8,257.5 53.0,246.3C63.3,235.0 75.1,223.3 86.8,214.3C98.6,205.3 110.4,198.1 123.7,192.2C137.0,186.3 152.3,182.2 166.7,178.7C181.0,175.2 196.4,172.9 209.7,171.3C223.0,169.8 235.8,169.5 246.5,169.5C257.3,169.5 269.6,171.0 274.2,171.3L283.4,181.8C293.6,182.1 325.4,183.1 344.8,183.6C364.3,184.1 382.7,183.8 400.1,184.8C417.5,185.9 441.1,188.9 449.2,189.7L452.3,246.3C448.7,248.1 438.0,251.7 430.8,257.3C423.6,262.9 416.0,271.7 409.3,280.0C402.7,288.4 396.0,299.0 390.9,307.7C385.8,316.4 381.0,325.6 378.6,332.3C376.2,338.9 376.8,342.5 376.8,347.6C376.8,352.7 378.3,360.4 378.6,363.0C377.1,367.1 373.5,379.9 369.4,387.5C365.3,395.2 360.2,402.9 354.0,409.0C347.9,415.2 340.2,420.8 332.5,424.4C324.9,428.0 316.7,429.7 308.0,430.5C299.3,431.4 284.9,429.5 280.3,429.3L126.8,399.8C122.1,399.3 107.8,399.8 99.1,396.8C90.4,393.7 82.2,388.1 74.5,381.4C66.9,374.7 60.2,365.5 53.0,356.8C45.9,348.1 37.2,337.4 31.5,329.2C25.9,321.0 21.5,312.8 19.3,307.7C17.0,302.6 18.2,300.0 18.0,298.5Z" fill="url(#lg7)"/>
<path class="sk" d="M274.2,171.3C277.8,169.7 283.9,163.5 295.7,161.5C307.4,159.4 322.3,158.4 344.8,159.0C367.3,159.7 401.1,162.4 430.8,165.2C460.5,167.9 496.3,172.1 523.0,175.6C549.6,179.1 579.3,184.3 590.5,186.1L578.2,190.4C570.0,190.5 550.6,191.1 529.1,191.0C507.6,190.9 480.0,191.0 449.2,189.7C418.5,188.5 372.5,184.9 344.8,183.6C317.2,182.3 293.6,182.1 283.4,181.8L274.2,171.3Z"/>
<path class="th" d="M308.0,167.6C318.2,167.8 346.9,167.8 369.4,168.9C391.9,169.9 417.5,171.5 443.1,173.8C468.7,176.0 501.5,180.0 523.0,182.4C544.5,184.7 563.9,187.0 572.1,187.9"/>
<path class="lens" d="M456.3,189.0C466.2,188.9 495.5,188.4 515.3,188.5C535.2,188.6 565.3,189.3 575.3,189.5C571.2,191.5 560.3,196.2 550.3,201.5C540.3,206.8 526.2,213.6 515.3,221.5C504.5,229.4 490.3,244.4 485.3,249.0L465.3,249.0C464.1,243.6 459.3,226.5 457.8,216.5C456.3,206.5 456.6,193.6 456.3,189.0Z" fill="url(#dk5)"/>
<path class="sk" d="M447.8,189.0C448.1,193.6 448.9,206.9 449.3,216.5C449.7,226.1 450.2,241.5 450.3,246.5L464.3,249.0C463.2,243.6 459.3,226.5 457.8,216.5C456.3,206.5 455.7,193.6 455.3,189.0Z"/>
<path class="ln" d="M455.3,189.0C455.7,193.6 456.3,206.5 457.8,216.5C459.3,226.5 463.2,243.6 464.3,249.0" style="stroke:#333;stroke-width:4"/>
<path class="sk" d="M382.8,347.9C385.3,351.6 392.0,362.9 397.8,370.4C403.7,377.9 410.3,386.2 417.8,392.9C425.3,399.5 433.2,405.8 442.8,410.4C452.4,415.0 463.2,420.0 475.3,420.4C487.4,420.8 502.8,416.8 515.3,412.9C527.8,409.0 544.5,399.5 550.3,396.9L515.3,297.9L465.3,267.9C457.0,272.9 429.1,284.5 415.3,297.9C401.6,311.2 388.2,339.5 382.8,347.9Z"/>
<path class="sk" d="M480.3,255.4C477.0,254.5 467.4,250.6 460.3,250.4C453.2,250.1 444.9,250.5 437.8,253.9C430.7,257.2 424.5,263.0 417.8,270.4C411.2,277.7 404.1,288.7 397.8,297.9C391.6,307.0 383.9,318.3 380.3,325.4C376.7,332.5 375.9,336.6 376.3,340.4C376.7,344.1 380.5,347.0 382.8,347.9C385.2,348.7 389.1,345.8 390.3,345.4C392.0,342.9 396.2,337.5 400.3,330.4C404.5,323.3 409.9,312.0 415.3,302.9C420.7,293.7 427.4,281.6 432.8,275.4C438.2,269.1 442.4,266.6 447.8,265.4C453.2,264.1 462.4,267.5 465.3,267.9Z"/>
<path class="ln" d="M465.3,267.9C462.8,269.7 455.7,273.0 450.3,278.9C444.9,284.7 438.2,293.9 432.8,302.9C427.4,311.9 421.2,323.7 417.8,332.9C414.5,342.0 412.8,350.0 412.8,357.9C412.8,365.8 414.5,373.7 417.8,380.4C421.2,387.0 426.6,393.1 432.8,397.9C439.1,402.6 451.6,407.0 455.3,408.9"/>
<path class="sk" d="M480.3,417.3C483.7,421.0 492.0,431.0 500.3,439.8C508.7,448.5 519.5,460.6 530.3,469.8C541.2,478.9 554.5,488.5 565.3,494.8C576.2,501.0 583.7,504.7 595.3,507.3C607.0,509.9 628.7,509.8 635.3,510.3L635.3,439.8C628.7,440.2 606.2,443.5 595.3,442.3C584.5,441.0 574.5,433.9 570.3,432.3Z"/>
<path class="sk" d="M517.8,409.8C519.9,413.1 525.7,424.4 530.3,429.8C534.9,435.2 540.3,440.2 545.3,442.3C550.3,444.4 556.2,443.9 560.3,442.3C564.5,440.6 570.3,436.9 570.3,432.3C570.3,427.7 563.7,420.6 560.3,414.8C557.0,408.9 552.0,400.2 550.3,397.3Z"/>
<path class="ln" d="M633.5,527.2C624.3,536.3 596.2,564.3 578.2,581.9C560.3,599.4 534.7,623.8 526.0,632.2"/>
<path class="ln" d="M633.5,551.8C626.4,558.8 604.0,580.7 590.5,594.1C577.0,607.6 558.8,625.9 552.4,632.2"/>
<path class="sk" d="M635.3,175.4C627.0,177.0 599.5,181.6 585.3,185.4C571.2,189.1 562.0,191.6 550.3,197.9C538.7,204.1 526.2,214.1 515.3,222.9C504.5,231.6 493.7,241.6 485.3,250.4C477.0,259.1 472.4,265.8 465.3,275.4C458.2,285.0 449.1,297.9 442.8,307.9C436.6,317.9 431.2,326.6 427.8,335.4C424.5,344.1 422.6,352.6 422.8,360.4C423.1,368.1 425.4,375.8 429.3,381.9C433.2,388.0 439.3,393.6 446.3,396.9C453.3,400.1 462.2,401.9 471.3,401.4C480.5,400.9 489.8,398.2 501.3,393.9C512.8,389.5 527.2,382.2 540.3,375.4C553.5,368.5 567.8,360.0 580.3,352.9C592.8,345.8 606.2,338.3 615.3,332.9C624.5,327.5 632.0,322.5 635.3,320.4Z"/>
<path class="ln" d="M475.3,292.9C477.4,293.7 483.2,293.3 487.8,297.9C492.4,302.5 498.2,312.5 502.8,320.4C507.4,328.3 512.8,338.3 515.3,345.4C517.8,352.5 519.1,357.0 517.8,362.9C516.6,368.7 512.8,375.4 507.8,380.4C502.8,385.4 494.9,390.1 487.8,392.9C480.7,395.6 472.8,397.7 465.3,396.9C457.8,396.0 448.8,392.3 442.8,387.9C436.8,383.5 432.1,377.0 429.3,370.4C426.6,363.7 425.3,355.4 426.3,347.9C427.3,340.4 430.9,332.5 435.3,325.4C439.7,318.3 446.2,310.8 452.8,305.4C459.5,300.0 471.6,295.0 475.3,292.9"/>
<path class="ln" d="M560.3,214.0C562.8,218.6 570.8,231.9 575.3,241.5C579.9,251.1 584.9,264.0 587.8,271.5C590.8,279.0 592.0,284.0 592.8,286.5"/>
<path class="ln" d="M542.8,266.5C544.9,269.8 550.3,281.1 555.3,286.5C560.3,291.9 569.9,296.9 572.8,299.0"/>
<path class="ln" d="M615.3,332.3L632.8,343.3"/>
<path class="sk" d="M-4.2,458.4C-0.0,451.7 12.5,428.8 20.8,418.4C29.2,408.0 37.5,400.9 45.8,395.9C54.2,390.9 57.5,387.2 70.8,388.4C84.2,389.7 116.7,400.9 125.8,403.4L125.8,282.1C126.9,273.4 128.4,243.4 132.4,229.5C136.4,215.6 142.6,206.5 150.0,198.8C157.3,191.1 166.8,186.4 176.3,183.5C185.8,180.5 197.5,180.2 207.0,181.3C216.5,182.4 225.2,184.2 233.3,190.0C241.3,195.9 249.4,206.1 255.2,216.4C261.1,226.6 264.7,238.3 268.4,251.4C272.0,264.6 275.7,272.5 277.1,295.3C278.6,318.1 277.0,363.7 276.8,388.4C276.6,413.1 275.2,425.9 275.8,443.4C276.5,460.9 278.7,477.6 280.8,493.4C282.9,509.2 285.0,528.4 288.3,538.4C291.7,548.4 295.4,545.9 300.8,553.4C306.2,560.9 314.2,574.2 320.8,583.4C327.5,592.6 335.4,599.2 340.8,608.4C346.2,617.6 351.2,633.4 353.3,638.4L-4.2,638.4Z"/>
<path class="ln" d="M125.8,363.4C126.7,371.7 129.6,396.7 130.8,413.4C132.1,430.1 135.0,449.2 133.3,463.4C131.7,477.6 126.2,486.7 120.8,498.4C115.4,510.1 105.8,520.9 100.8,533.4C95.8,545.9 92.5,566.7 90.8,573.4"/>
<path class="ln" d="M145.6,264.6C145.0,260.2 141.7,247.1 142.1,238.3C142.4,229.5 143.5,219.3 147.8,212.0C152.0,204.7 159.8,198.1 167.5,194.4C175.2,190.8 185.0,189.7 193.8,190.0C202.6,190.4 212.8,192.2 220.1,196.6C227.4,201.0 233.7,208.7 237.7,216.4C241.7,224.0 243.5,233.9 244.3,242.7C245.0,251.4 244.6,263.1 242.1,269.0C239.5,274.8 238.4,275.6 228.9,277.8C219.4,280.0 197.5,281.8 185.0,282.1C172.6,282.5 160.9,282.9 154.3,280.0C147.8,277.0 147.0,267.2 145.6,264.6"/>
<path class="ln" d="M143.3,355.9C148.7,354.2 160.4,347.8 175.8,345.9C191.2,344.0 225.8,344.6 235.8,344.4"/>
<path class="ln" d="M149.8,380.9C155.0,379.5 167.7,374.3 180.8,372.4C193.9,370.5 220.4,369.9 228.3,369.4"/>
<path class="ln" d="M65.8,463.4C70.0,465.9 82.9,473.0 90.8,478.4C98.7,483.8 109.6,493.0 113.3,495.9"/>
<path class="ln" d="M100.8,453.4C102.9,455.5 109.2,461.7 113.3,465.9C117.5,470.1 123.7,476.3 125.8,478.4"/>
<path class="ln" d="M18.3,545.9C23.7,546.7 41.2,548.4 50.8,550.9C60.4,553.4 71.7,559.2 75.8,560.9"/>
<path class="ln" d="M23.3,575.9C27.9,575.1 42.1,572.3 50.8,570.9C59.6,569.5 71.7,568.0 75.8,567.4"/>
<path class="ln" d="M68.3,580.9C70.8,577.2 78.3,567.2 83.3,558.4C88.3,549.7 95.8,533.4 98.3,528.4"/>
<path class="ln" d="M265.8,545.9C268.3,545.5 276.7,543.7 280.8,543.4C285.0,543.2 289.2,544.2 290.8,544.4"/>
<path class="bl" d="M286.8,447.4L298.3,432.4L313.3,450.9L305.8,468.4Z"/>
<path class="bl" d="M321.8,478.4L333.3,465.9L344.8,477.4L334.8,493.4Z"/>
<path class="bl" d="M354.8,495.9L358.3,485.9L370.8,490.9L368.3,508.4Z"/>
<path class="bl" d="M224.5,196.6C228.2,191.1 236.9,175.1 246.4,163.7C255.9,152.4 268.4,138.9 281.5,128.6C294.7,118.4 311.5,108.5 325.4,102.3C339.3,96.1 356.1,93.2 364.9,91.4C373.6,89.5 375.7,91.5 377.8,91.5L374.3,71.5L447.8,91.5L390.3,131.5L381.3,111.5C376.2,112.3 358.2,114.7 350.3,116.5C342.5,118.2 343.4,117.5 334.2,122.1C324.9,126.6 306.4,135.6 294.7,144.0C283.0,152.4 272.4,163.0 264.0,172.5C255.6,182.0 247.5,196.3 244.3,201.0Z"/>
</g></g>
<!-- panel 8 -->
<g transform="translate(774,366.4) scale(0.36248)"><g clip-path="url(#pc)">
<path class="sk" d="M424.5,196.6C428.7,192.8 438.7,182.8 449.5,174.1C460.3,165.3 474.5,153.2 489.5,144.1C504.5,134.9 523.7,126.6 539.5,119.1C555.3,111.6 568.7,107.1 584.5,99.1C600.3,91.1 626.2,75.7 634.5,71.1L634.5,404.1L464.5,304.1Z"/>
<path class="ln" d="M564.5,186.6C567.0,189.1 574.5,197.0 579.5,201.6C584.5,206.2 592.0,212.0 594.5,214.1"/>
<path class="ln" d="M587.0,174.1C588.3,177.4 592.0,187.4 594.5,194.1C597.0,200.7 600.8,210.7 602.0,214.1"/>
<path class="ln" d="M0.0,378.4C2.5,373.4 10.0,357.6 15.0,348.4C20.0,339.2 24.6,331.3 30.0,323.4C35.4,315.5 39.2,310.2 47.4,301.3C55.5,292.3 67.5,278.9 78.9,269.7C90.4,260.5 104.4,251.7 115.8,246.0C127.2,240.3 138.6,237.8 147.4,235.5C156.1,233.1 164.9,232.4 168.4,231.8"/>
<path class="ln" d="M39.5,317.1C44.3,311.4 57.5,292.5 68.4,282.8C79.4,273.2 93.0,266.2 105.3,259.2C117.5,252.1 136.0,243.8 142.1,240.7"/>
<path class="ln" d="M39.5,317.1C40.4,320.1 40.4,330.7 44.7,335.5C49.1,340.3 60.1,346.4 65.8,346.0C71.5,345.6 76.8,335.0 78.9,332.8"/>
<path class="ln" d="M84.2,289.7C80.7,292.9 68.4,302.8 63.2,309.2C57.9,315.5 54.4,324.5 52.6,327.6"/>
<path class="ln" d="M21.1,346.0C21.9,348.6 22.8,358.3 26.3,361.8C29.8,365.3 37.7,367.9 42.1,367.1C46.5,366.2 50.9,358.3 52.6,356.5"/>
<path class="ln" d="M0.0,408.4C1.7,403.4 5.8,386.7 10.0,378.4C14.2,370.1 22.5,361.7 25.0,358.4"/>
<path class="ln" d="M77.5,335.9C72.9,340.5 58.3,353.0 50.0,363.4C41.7,373.8 33.8,385.9 27.5,398.4C21.3,410.9 16.3,424.2 12.5,438.4C8.8,452.6 5.8,468.4 5.0,483.4C4.2,498.4 5.4,513.4 7.5,528.4C9.6,543.4 12.9,559.2 17.5,573.4C22.1,587.6 30.8,603.4 35.0,613.4C39.2,623.4 41.3,630.1 42.5,633.4"/>
<path class="ln" d="M0.0,543.4C1.3,549.2 3.8,566.7 7.5,578.4C11.3,590.1 18.6,604.2 22.5,613.4C26.4,622.6 29.6,630.1 31.0,633.4"/>
<path class="ln" d="M-2.5,463.4C-2.1,471.7 -0.8,501.7 0.0,513.4C0.8,525.1 2.1,530.1 2.5,533.4"/>
<path class="lens" d="M77.0,329.4C77.9,327.2 78.7,321.9 82.3,316.2C85.8,310.5 91.0,303.5 98.0,295.2C105.1,286.8 115.6,275.0 124.4,266.2C133.1,257.4 142.8,248.8 150.7,242.5C158.6,236.2 163.0,232.4 171.7,228.3C180.5,224.2 191.0,220.9 203.3,217.8C215.6,214.6 230.5,211.6 245.4,209.4C260.3,207.1 279.8,205.4 292.8,204.1C305.8,202.8 318.2,201.9 323.3,201.5L321.1,200.2C322.8,201.7 327.2,206.8 331.6,209.2C336.0,211.5 341.9,213.8 347.4,214.4C352.9,215.1 353.3,212.7 364.5,213.1C375.7,213.4 397.8,214.7 414.5,216.6C431.2,218.4 448.7,221.4 464.5,224.1C480.3,226.7 502.0,231.2 509.5,232.6C509.8,237.8 510.3,254.2 511.0,264.1C511.7,273.9 513.1,287.0 513.5,291.6C510.3,292.2 501.0,292.2 494.5,295.1C488.0,298.0 479.5,303.7 474.5,309.1C469.5,314.4 469.1,319.6 464.5,327.2C459.9,334.8 451.2,347.2 447.0,354.7C442.8,362.2 440.3,366.8 439.5,372.2C438.7,377.6 441.6,384.7 442.0,387.2L442.8,384.6C441.9,386.8 441.5,390.3 437.5,397.8C433.6,405.2 425.2,420.6 419.1,429.4C413.0,438.1 406.8,444.7 400.7,450.4C394.5,456.1 389.7,460.7 382.3,463.6C374.8,466.5 364.7,467.6 355.9,467.8C347.2,468.0 340.2,466.6 329.6,464.6C319.1,462.6 305.9,458.9 292.8,455.7C279.6,452.4 265.6,448.7 250.7,445.2C235.8,441.6 219.1,437.7 203.3,434.6C187.5,431.6 166.9,428.9 155.9,426.7C145.0,424.5 143.7,425.0 137.5,421.5C131.4,418.0 125.7,413.1 119.1,405.7C112.5,398.2 104.2,385.9 98.0,376.7C91.9,367.5 85.8,358.3 82.3,350.4C78.7,342.5 77.9,332.9 77.0,329.4Z" fill="url(#lg8)"/>
<path class="sk" d="M322.0,201.6C324.1,200.5 325.8,196.1 334.5,195.1C343.3,194.1 359.5,194.9 374.5,195.6C389.5,196.2 405.3,197.2 424.5,199.1C443.7,200.9 467.8,204.1 489.5,206.6C511.2,209.1 535.3,212.0 554.5,214.1C573.7,216.2 591.2,217.3 604.5,219.1C617.8,220.8 629.5,223.7 634.5,224.6L634.5,239.6C622.8,238.8 585.3,236.4 564.5,235.1C543.7,233.7 526.2,233.4 509.5,231.6C492.8,229.7 480.3,226.6 464.5,224.1C448.7,221.6 431.2,218.4 414.5,216.6C397.8,214.7 377.8,214.3 364.5,213.1C351.2,211.8 341.6,211.0 334.5,209.1C327.4,207.2 324.1,202.8 322.0,201.6Z"/>
<path class="th" d="M337.0,201.6C343.3,201.7 359.9,201.9 374.5,202.6C389.1,203.2 405.3,203.8 424.5,205.6C443.7,207.3 467.8,210.4 489.5,213.1C511.2,215.7 533.7,218.9 554.5,221.6C575.3,224.2 604.5,227.8 614.5,229.1"/>
<path class="lens" d="M518.5,233.1C526.2,233.5 548.5,234.4 564.5,235.6C580.5,236.7 606.2,239.3 614.5,240.1C612.0,242.0 607.8,245.9 599.5,251.6C591.2,257.2 575.3,266.2 564.5,274.1C553.7,282.0 539.5,294.9 534.5,299.1L522.0,293.1L518.5,233.1Z" fill="url(#dk5)"/>
<path class="sk" d="M509.5,232.6C509.8,237.8 510.3,254.2 511.0,264.1C511.7,273.9 513.1,287.0 513.5,291.6L520.5,292.1L517.0,233.1Z"/>
<path class="ln" d="M517.0,233.1L520.5,292.1" style="stroke:#333;stroke-width:3.5"/>
<path class="sk" d="M447.0,389.7C449.1,393.4 454.1,404.7 459.5,412.2C464.9,419.7 472.0,428.0 479.5,434.7C487.0,441.4 495.3,448.0 504.5,452.2C513.7,456.4 529.5,458.4 534.5,459.7L539.5,347.2L469.5,359.7Z"/>
<path class="sk" d="M534.5,297.2C531.2,296.4 521.6,292.2 514.5,292.2C507.4,292.2 499.1,293.0 492.0,297.2C484.9,301.4 478.7,308.9 472.0,317.2C465.3,325.5 457.4,338.0 452.0,347.2C446.6,356.4 441.6,365.9 439.5,372.2C437.4,378.4 438.3,381.8 439.5,384.7C440.8,387.6 443.7,389.7 447.0,389.7C450.3,389.7 457.4,385.5 459.5,384.7C461.2,380.5 465.8,368.0 469.5,359.7C473.3,351.4 477.8,342.2 482.0,334.7C486.2,327.2 489.9,319.3 494.5,314.7C499.1,310.1 504.5,308.0 509.5,307.2C514.5,306.4 522.0,309.3 524.5,309.7Z"/>
<path class="ln" d="M469.5,374.7C469.5,378.4 467.8,389.7 469.5,397.2C471.2,404.7 474.5,413.0 479.5,419.7C484.5,426.4 491.2,432.8 499.5,437.2C507.8,441.6 524.5,444.7 529.5,446.2"/>
<path class="sk" d="M539.5,467.2C542.0,471.4 547.8,483.9 554.5,492.2C561.2,500.5 570.3,509.3 579.5,517.2C588.7,525.1 600.3,533.4 609.5,539.7C618.7,545.9 630.3,552.2 634.5,554.7L634.5,447.2Z"/>
<path class="sk" d="M534.5,459.7C537.0,463.0 542.8,474.7 549.5,479.7C556.2,484.7 566.2,488.0 574.5,489.7C582.8,491.4 592.8,491.8 599.5,489.7C606.2,487.6 611.6,482.6 614.5,477.2C617.4,471.8 617.8,463.4 617.0,457.2C616.2,450.9 610.8,442.6 609.5,439.7Z"/>
<path class="ln" d="M564.5,454.7C567.0,458.4 574.5,471.9 579.5,477.2C584.5,482.4 592.0,484.7 594.5,486.2"/>
<path class="sk" d="M634.5,245.1C629.5,246.6 614.5,249.2 604.5,254.1C594.5,258.9 584.5,266.6 574.5,274.1C564.5,281.6 551.2,294.4 544.5,299.1C537.8,303.8 540.3,297.5 534.5,302.2C528.7,306.9 517.4,318.4 509.5,327.2C501.6,335.9 493.0,345.9 487.0,354.7C481.0,363.4 476.3,372.2 473.5,379.7C470.8,387.2 469.9,393.0 470.5,399.7C471.1,406.4 473.4,413.6 477.0,419.7C480.6,425.8 486.2,432.0 492.0,436.2C497.8,440.4 504.5,443.1 512.0,444.7C519.5,446.3 527.4,446.5 537.0,445.7C546.6,444.9 558.3,442.4 569.5,439.7C580.8,437.0 593.7,432.9 604.5,429.7C615.3,426.5 629.5,422.2 634.5,420.7Z"/>
<path class="ln" d="M529.5,337.2C531.6,337.2 537.4,334.3 542.0,337.2C546.6,340.1 552.4,348.0 557.0,354.7C561.6,361.4 567.0,370.1 569.5,377.2C572.0,384.3 573.7,390.1 572.0,397.2C570.3,404.3 565.8,413.4 559.5,419.7C553.3,425.9 542.8,431.8 534.5,434.7C526.2,437.6 517.0,438.4 509.5,437.2C502.0,435.9 494.5,432.2 489.5,427.2C484.5,422.2 481.2,414.3 479.5,407.2C477.8,400.1 477.4,391.8 479.5,384.7C481.6,377.6 486.6,370.9 492.0,364.7C497.4,358.4 505.8,351.8 512.0,347.2C518.3,342.6 526.6,338.9 529.5,337.2"/>
<path class="ln" d="M614.5,264.1C615.8,266.6 619.1,274.7 622.0,279.1C624.9,283.4 630.3,288.2 632.0,290.1"/>
<path class="ln" d="M604.5,317.2C606.6,319.7 612.4,328.3 617.0,332.2C621.6,336.1 629.5,339.3 632.0,340.7"/>
</g></g>
<!-- frames and badges -->
<g transform="translate(22.7,40.5)"><path d="M0,27 V10 A10,10 0 0 1 10,0 H27.7 V17 A10,10 0 0 1 17.7,27 Z" fill="#0c63b3" stroke="#1a1a1a" stroke-width="0.8"/><rect x="0" y="0" width="228" height="227" rx="10" ry="10" fill="none" stroke="#383838" stroke-width="1.15"/><text class="num" transform="translate(13.7,20.6) scale(1.03,1.1)">1</text></g>
<g transform="translate(273.2,40.5)"><path d="M0,27 V10 A10,10 0 0 1 10,0 H27.7 V17 A10,10 0 0 1 17.7,27 Z" fill="#0c63b3" stroke="#1a1a1a" stroke-width="0.8"/><rect x="0" y="0" width="228" height="227" rx="10" ry="10" fill="none" stroke="#383838" stroke-width="1.15"/><text class="num" transform="translate(13.7,20.6) scale(1.03,1.1)">2</text></g>
<g transform="translate(523.7,40.5)"><path d="M0,27 V10 A10,10 0 0 1 10,0 H27.7 V17 A10,10 0 0 1 17.7,27 Z" fill="#0c63b3" stroke="#1a1a1a" stroke-width="0.8"/><rect x="0" y="0" width="228" height="227" rx="10" ry="10" fill="none" stroke="#383838" stroke-width="1.15"/><text class="num" transform="translate(13.7,20.6) scale(1.03,1.1)">3</text></g>
<g transform="translate(774,40.5)"><path d="M0,27 V10 A10,10 0 0 1 10,0 H27.7 V17 A10,10 0 0 1 17.7,27 Z" fill="#0c63b3" stroke="#1a1a1a" stroke-width="0.8"/><rect x="0" y="0" width="228" height="227" rx="10" ry="10" fill="none" stroke="#383838" stroke-width="1.15"/><text class="num" transform="translate(13.7,20.6) scale(1.03,1.1)">4</text></g>
<g transform="translate(22.7,366.4)"><path d="M0,27 V10 A10,10 0 0 1 10,0 H27.7 V17 A10,10 0 0 1 17.7,27 Z" fill="#0c63b3" stroke="#1a1a1a" stroke-width="0.8"/><rect x="0" y="0" width="228" height="227" rx="10" ry="10" fill="none" stroke="#383838" stroke-width="1.15"/><text class="num" transform="translate(13.7,20.6) scale(1.03,1.1)">1</text></g>
<g transform="translate(273.2,366.4)"><path d="M0,27 V10 A10,10 0 0 1 10,0 H27.7 V17 A10,10 0 0 1 17.7,27 Z" fill="#0c63b3" stroke="#1a1a1a" stroke-width="0.8"/><rect x="0" y="0" width="228" height="227" rx="10" ry="10" fill="none" stroke="#383838" stroke-width="1.15"/><text class="num" transform="translate(13.7,20.6) scale(1.03,1.1)">2</text></g>
<g transform="translate(523.7,366.4)"><path d="M0,27 V10 A10,10 0 0 1 10,0 H27.7 V17 A10,10 0 0 1 17.7,27 Z" fill="#0c63b3" stroke="#1a1a1a" stroke-width="0.8"/><rect x="0" y="0" width="228" height="227" rx="10" ry="10" fill="none" stroke="#383838" stroke-width="1.15"/><text class="num" transform="translate(13.7,20.6) scale(1.03,1.1)">3</text></g>
<g transform="translate(774,366.4)"><path d="M0,27 V10 A10,10 0 0 1 10,0 H27.7 V17 A10,10 0 0 1 17.7,27 Z" fill="#0c63b3" stroke="#1a1a1a" stroke-width="0.8"/><rect x="0" y="0" width="228" height="227" rx="10" ry="10" fill="none" stroke="#383838" stroke-width="1.15"/><text class="num" transform="translate(13.7,20.6) scale(1.03,1.1)">4</text></g>
</svg>
</body>
</html>
